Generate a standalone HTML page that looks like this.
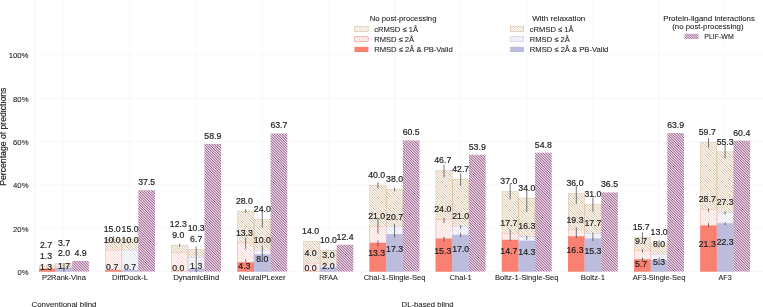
<!DOCTYPE html>
<html><head><meta charset="utf-8"><style>
html,body{margin:0;padding:0;background:#fff;width:763px;height:307px;overflow:hidden}
svg{display:block;will-change:transform}
text{font-family:"Liberation Sans",sans-serif}
</style></head><body>
<svg width="763" height="307" viewBox="0 0 763 307">
<defs>
</defs>
<rect width="763" height="307" fill="#fff"/>
<line x1="63.95" y1="0" x2="63.95" y2="271.60" stroke="#f6f6fa" stroke-width="0.8"/>
<line x1="130.07" y1="0" x2="130.07" y2="271.60" stroke="#f6f6fa" stroke-width="0.8"/>
<line x1="196.19" y1="0" x2="196.19" y2="271.60" stroke="#f6f6fa" stroke-width="0.8"/>
<line x1="262.31" y1="0" x2="262.31" y2="271.60" stroke="#f6f6fa" stroke-width="0.8"/>
<line x1="328.43" y1="0" x2="328.43" y2="271.60" stroke="#f6f6fa" stroke-width="0.8"/>
<line x1="394.55" y1="0" x2="394.55" y2="271.60" stroke="#f6f6fa" stroke-width="0.8"/>
<line x1="460.67" y1="0" x2="460.67" y2="271.60" stroke="#f6f6fa" stroke-width="0.8"/>
<line x1="526.79" y1="0" x2="526.79" y2="271.60" stroke="#f6f6fa" stroke-width="0.8"/>
<line x1="592.91" y1="0" x2="592.91" y2="271.60" stroke="#f6f6fa" stroke-width="0.8"/>
<line x1="659.03" y1="0" x2="659.03" y2="271.60" stroke="#f6f6fa" stroke-width="0.8"/>
<line x1="725.15" y1="0" x2="725.15" y2="271.60" stroke="#f6f6fa" stroke-width="0.8"/>
<line x1="34.6" y1="0" x2="34.6" y2="271.60" stroke="#f2f2f7" stroke-width="0.9"/>
<line x1="34.6" y1="271.60" x2="763" y2="271.60" stroke="#f6f6fa" stroke-width="0.8"/>
<line x1="34.6" y1="228.25" x2="763" y2="228.25" stroke="#f6f6fa" stroke-width="0.8"/>
<line x1="34.6" y1="184.90" x2="763" y2="184.90" stroke="#f6f6fa" stroke-width="0.8"/>
<line x1="34.6" y1="141.55" x2="763" y2="141.55" stroke="#f6f6fa" stroke-width="0.8"/>
<line x1="34.6" y1="98.20" x2="763" y2="98.20" stroke="#f6f6fa" stroke-width="0.8"/>
<line x1="34.6" y1="54.85" x2="763" y2="54.85" stroke="#f6f6fa" stroke-width="0.8"/>
<clipPath id="cc"><rect x="39.05" y="265.75" width="16.60" height="5.85"/><rect x="55.65" y="263.58" width="16.60" height="8.02"/><rect x="105.17" y="239.09" width="16.60" height="32.51"/><rect x="121.77" y="239.09" width="16.60" height="32.51"/><rect x="171.29" y="244.94" width="16.60" height="26.66"/><rect x="187.89" y="249.27" width="16.60" height="22.33"/><rect x="237.41" y="210.91" width="16.60" height="60.69"/><rect x="254.01" y="219.58" width="16.60" height="52.02"/><rect x="303.53" y="241.26" width="16.60" height="30.34"/><rect x="320.13" y="249.93" width="16.60" height="21.68"/><rect x="369.65" y="184.90" width="16.60" height="86.70"/><rect x="386.25" y="189.24" width="16.60" height="82.37"/><rect x="435.77" y="170.38" width="16.60" height="101.22"/><rect x="452.37" y="179.05" width="16.60" height="92.55"/><rect x="501.89" y="191.40" width="16.60" height="80.20"/><rect x="518.49" y="197.91" width="16.60" height="73.69"/><rect x="568.01" y="193.57" width="16.60" height="78.03"/><rect x="584.61" y="204.41" width="16.60" height="67.19"/><rect x="634.13" y="237.57" width="16.60" height="34.03"/><rect x="650.73" y="243.42" width="16.60" height="28.18"/><rect x="700.25" y="142.20" width="16.60" height="129.40"/><rect x="716.85" y="151.74" width="16.60" height="119.86"/></clipPath><rect x="39.05" y="265.75" width="16.60" height="5.85" fill="#ffffff"/><rect x="55.65" y="263.58" width="16.60" height="8.02" fill="#ffffff"/><rect x="105.17" y="239.09" width="16.60" height="32.51" fill="#ffffff"/><rect x="121.77" y="239.09" width="16.60" height="32.51" fill="#ffffff"/><rect x="171.29" y="244.94" width="16.60" height="26.66" fill="#ffffff"/><rect x="187.89" y="249.27" width="16.60" height="22.33" fill="#ffffff"/><rect x="237.41" y="210.91" width="16.60" height="60.69" fill="#ffffff"/><rect x="254.01" y="219.58" width="16.60" height="52.02" fill="#ffffff"/><rect x="303.53" y="241.26" width="16.60" height="30.34" fill="#ffffff"/><rect x="320.13" y="249.93" width="16.60" height="21.68" fill="#ffffff"/><rect x="369.65" y="184.90" width="16.60" height="86.70" fill="#ffffff"/><rect x="386.25" y="189.24" width="16.60" height="82.37" fill="#ffffff"/><rect x="435.77" y="170.38" width="16.60" height="101.22" fill="#ffffff"/><rect x="452.37" y="179.05" width="16.60" height="92.55" fill="#ffffff"/><rect x="501.89" y="191.40" width="16.60" height="80.20" fill="#ffffff"/><rect x="518.49" y="197.91" width="16.60" height="73.69" fill="#ffffff"/><rect x="568.01" y="193.57" width="16.60" height="78.03" fill="#ffffff"/><rect x="584.61" y="204.41" width="16.60" height="67.19" fill="#ffffff"/><rect x="634.13" y="237.57" width="16.60" height="34.03" fill="#ffffff"/><rect x="650.73" y="243.42" width="16.60" height="28.18" fill="#ffffff"/><rect x="700.25" y="142.20" width="16.60" height="129.40" fill="#ffffff"/><rect x="716.85" y="151.74" width="16.60" height="119.86" fill="#ffffff"/><path d="M30.00,-637.50L763.00,95.50M30.00,-635.00L763.00,98.00M30.00,-632.50L763.00,100.50M30.00,-630.00L763.00,103.00M30.00,-627.50L763.00,105.50M30.00,-625.00L763.00,108.00M30.00,-622.50L763.00,110.50M30.00,-620.00L763.00,113.00M30.00,-617.50L763.00,115.50M30.00,-615.00L763.00,118.00M30.00,-612.50L763.00,120.50M30.00,-610.00L763.00,123.00M30.00,-607.50L763.00,125.50M30.00,-605.00L763.00,128.00M30.00,-602.50L763.00,130.50M30.00,-600.00L763.00,133.00M30.00,-597.50L763.00,135.50M30.00,-595.00L763.00,138.00M30.00,-592.50L763.00,140.50M30.00,-590.00L763.00,143.00M30.00,-587.50L763.00,145.50M30.00,-585.00L763.00,148.00M30.00,-582.50L763.00,150.50M30.00,-580.00L763.00,153.00M30.00,-577.50L763.00,155.50M30.00,-575.00L763.00,158.00M30.00,-572.50L763.00,160.50M30.00,-570.00L763.00,163.00M30.00,-567.50L763.00,165.50M30.00,-565.00L763.00,168.00M30.00,-562.50L763.00,170.50M30.00,-560.00L763.00,173.00M30.00,-557.50L763.00,175.50M30.00,-555.00L763.00,178.00M30.00,-552.50L763.00,180.50M30.00,-550.00L763.00,183.00M30.00,-547.50L763.00,185.50M30.00,-545.00L763.00,188.00M30.00,-542.50L763.00,190.50M30.00,-540.00L763.00,193.00M30.00,-537.50L763.00,195.50M30.00,-535.00L763.00,198.00M30.00,-532.50L763.00,200.50M30.00,-530.00L763.00,203.00M30.00,-527.50L763.00,205.50M30.00,-525.00L763.00,208.00M30.00,-522.50L763.00,210.50M30.00,-520.00L763.00,213.00M30.00,-517.50L763.00,215.50M30.00,-515.00L763.00,218.00M30.00,-512.50L763.00,220.50M30.00,-510.00L763.00,223.00M30.00,-507.50L763.00,225.50M30.00,-505.00L763.00,228.00M30.00,-502.50L763.00,230.50M30.00,-500.00L763.00,233.00M30.00,-497.50L763.00,235.50M30.00,-495.00L763.00,238.00M30.00,-492.50L763.00,240.50M30.00,-490.00L763.00,243.00M30.00,-487.50L763.00,245.50M30.00,-485.00L763.00,248.00M30.00,-482.50L763.00,250.50M30.00,-480.00L763.00,253.00M30.00,-477.50L763.00,255.50M30.00,-475.00L763.00,258.00M30.00,-472.50L763.00,260.50M30.00,-470.00L763.00,263.00M30.00,-467.50L763.00,265.50M30.00,-465.00L763.00,268.00M30.00,-462.50L763.00,270.50M30.00,-460.00L763.00,273.00M30.00,-457.50L763.00,275.50M30.00,-455.00L763.00,278.00M30.00,-452.50L763.00,280.50M30.00,-450.00L763.00,283.00M30.00,-447.50L763.00,285.50M30.00,-445.00L763.00,288.00M30.00,-442.50L763.00,290.50M30.00,-440.00L763.00,293.00M30.00,-437.50L763.00,295.50M30.00,-435.00L763.00,298.00M30.00,-432.50L763.00,300.50M30.00,-430.00L763.00,303.00M30.00,-427.50L763.00,305.50M30.00,-425.00L763.00,308.00M30.00,-422.50L763.00,310.50M30.00,-420.00L763.00,313.00M30.00,-417.50L763.00,315.50M30.00,-415.00L763.00,318.00M30.00,-412.50L763.00,320.50M30.00,-410.00L763.00,323.00M30.00,-407.50L763.00,325.50M30.00,-405.00L763.00,328.00M30.00,-402.50L763.00,330.50M30.00,-400.00L763.00,333.00M30.00,-397.50L763.00,335.50M30.00,-395.00L763.00,338.00M30.00,-392.50L763.00,340.50M30.00,-390.00L763.00,343.00M30.00,-387.50L763.00,345.50M30.00,-385.00L763.00,348.00M30.00,-382.50L763.00,350.50M30.00,-380.00L763.00,353.00M30.00,-377.50L763.00,355.50M30.00,-375.00L763.00,358.00M30.00,-372.50L763.00,360.50M30.00,-370.00L763.00,363.00M30.00,-367.50L763.00,365.50M30.00,-365.00L763.00,368.00M30.00,-362.50L763.00,370.50M30.00,-360.00L763.00,373.00M30.00,-357.50L763.00,375.50M30.00,-355.00L763.00,378.00M30.00,-352.50L763.00,380.50M30.00,-350.00L763.00,383.00M30.00,-347.50L763.00,385.50M30.00,-345.00L763.00,388.00M30.00,-342.50L763.00,390.50M30.00,-340.00L763.00,393.00M30.00,-337.50L763.00,395.50M30.00,-335.00L763.00,398.00M30.00,-332.50L763.00,400.50M30.00,-330.00L763.00,403.00M30.00,-327.50L763.00,405.50M30.00,-325.00L763.00,408.00M30.00,-322.50L763.00,410.50M30.00,-320.00L763.00,413.00M30.00,-317.50L763.00,415.50M30.00,-315.00L763.00,418.00M30.00,-312.50L763.00,420.50M30.00,-310.00L763.00,423.00M30.00,-307.50L763.00,425.50M30.00,-305.00L763.00,428.00M30.00,-302.50L763.00,430.50M30.00,-300.00L763.00,433.00M30.00,-297.50L763.00,435.50M30.00,-295.00L763.00,438.00M30.00,-292.50L763.00,440.50M30.00,-290.00L763.00,443.00M30.00,-287.50L763.00,445.50M30.00,-285.00L763.00,448.00M30.00,-282.50L763.00,450.50M30.00,-280.00L763.00,453.00M30.00,-277.50L763.00,455.50M30.00,-275.00L763.00,458.00M30.00,-272.50L763.00,460.50M30.00,-270.00L763.00,463.00M30.00,-267.50L763.00,465.50M30.00,-265.00L763.00,468.00M30.00,-262.50L763.00,470.50M30.00,-260.00L763.00,473.00M30.00,-257.50L763.00,475.50M30.00,-255.00L763.00,478.00M30.00,-252.50L763.00,480.50M30.00,-250.00L763.00,483.00M30.00,-247.50L763.00,485.50M30.00,-245.00L763.00,488.00M30.00,-242.50L763.00,490.50M30.00,-240.00L763.00,493.00M30.00,-237.50L763.00,495.50M30.00,-235.00L763.00,498.00M30.00,-232.50L763.00,500.50M30.00,-230.00L763.00,503.00M30.00,-227.50L763.00,505.50M30.00,-225.00L763.00,508.00M30.00,-222.50L763.00,510.50M30.00,-220.00L763.00,513.00M30.00,-217.50L763.00,515.50M30.00,-215.00L763.00,518.00M30.00,-212.50L763.00,520.50M30.00,-210.00L763.00,523.00M30.00,-207.50L763.00,525.50M30.00,-205.00L763.00,528.00M30.00,-202.50L763.00,530.50M30.00,-200.00L763.00,533.00M30.00,-197.50L763.00,535.50M30.00,-195.00L763.00,538.00M30.00,-192.50L763.00,540.50M30.00,-190.00L763.00,543.00M30.00,-187.50L763.00,545.50M30.00,-185.00L763.00,548.00M30.00,-182.50L763.00,550.50M30.00,-180.00L763.00,553.00M30.00,-177.50L763.00,555.50M30.00,-175.00L763.00,558.00M30.00,-172.50L763.00,560.50M30.00,-170.00L763.00,563.00M30.00,-167.50L763.00,565.50M30.00,-165.00L763.00,568.00M30.00,-162.50L763.00,570.50M30.00,-160.00L763.00,573.00M30.00,-157.50L763.00,575.50M30.00,-155.00L763.00,578.00M30.00,-152.50L763.00,580.50M30.00,-150.00L763.00,583.00M30.00,-147.50L763.00,585.50M30.00,-145.00L763.00,588.00M30.00,-142.50L763.00,590.50M30.00,-140.00L763.00,593.00M30.00,-137.50L763.00,595.50M30.00,-135.00L763.00,598.00M30.00,-132.50L763.00,600.50M30.00,-130.00L763.00,603.00M30.00,-127.50L763.00,605.50M30.00,-125.00L763.00,608.00M30.00,-122.50L763.00,610.50M30.00,-120.00L763.00,613.00M30.00,-117.50L763.00,615.50M30.00,-115.00L763.00,618.00M30.00,-112.50L763.00,620.50M30.00,-110.00L763.00,623.00M30.00,-107.50L763.00,625.50M30.00,-105.00L763.00,628.00M30.00,-102.50L763.00,630.50M30.00,-100.00L763.00,633.00M30.00,-97.50L763.00,635.50M30.00,-95.00L763.00,638.00M30.00,-92.50L763.00,640.50M30.00,-90.00L763.00,643.00M30.00,-87.50L763.00,645.50M30.00,-85.00L763.00,648.00M30.00,-82.50L763.00,650.50M30.00,-80.00L763.00,653.00M30.00,-77.50L763.00,655.50M30.00,-75.00L763.00,658.00M30.00,-72.50L763.00,660.50M30.00,-70.00L763.00,663.00M30.00,-67.50L763.00,665.50M30.00,-65.00L763.00,668.00M30.00,-62.50L763.00,670.50M30.00,-60.00L763.00,673.00M30.00,-57.50L763.00,675.50M30.00,-55.00L763.00,678.00M30.00,-52.50L763.00,680.50M30.00,-50.00L763.00,683.00M30.00,-47.50L763.00,685.50M30.00,-45.00L763.00,688.00M30.00,-42.50L763.00,690.50M30.00,-40.00L763.00,693.00M30.00,-37.50L763.00,695.50M30.00,-35.00L763.00,698.00M30.00,-32.50L763.00,700.50M30.00,-30.00L763.00,703.00M30.00,-27.50L763.00,705.50M30.00,-25.00L763.00,708.00M30.00,-22.50L763.00,710.50M30.00,-20.00L763.00,713.00M30.00,-17.50L763.00,715.50M30.00,-15.00L763.00,718.00M30.00,-12.50L763.00,720.50M30.00,-10.00L763.00,723.00M30.00,-7.50L763.00,725.50M30.00,-5.00L763.00,728.00M30.00,-2.50L763.00,730.50M30.00,0.00L763.00,733.00M30.00,2.50L763.00,735.50M30.00,5.00L763.00,738.00M30.00,7.50L763.00,740.50M30.00,10.00L763.00,743.00M30.00,12.50L763.00,745.50M30.00,15.00L763.00,748.00M30.00,17.50L763.00,750.50M30.00,20.00L763.00,753.00M30.00,22.50L763.00,755.50M30.00,25.00L763.00,758.00M30.00,27.50L763.00,760.50M30.00,30.00L763.00,763.00M30.00,32.50L763.00,765.50M30.00,35.00L763.00,768.00M30.00,37.50L763.00,770.50M30.00,40.00L763.00,773.00M30.00,42.50L763.00,775.50M30.00,45.00L763.00,778.00M30.00,47.50L763.00,780.50M30.00,50.00L763.00,783.00M30.00,52.50L763.00,785.50M30.00,55.00L763.00,788.00M30.00,57.50L763.00,790.50M30.00,60.00L763.00,793.00M30.00,62.50L763.00,795.50M30.00,65.00L763.00,798.00M30.00,67.50L763.00,800.50M30.00,70.00L763.00,803.00M30.00,72.50L763.00,805.50M30.00,75.00L763.00,808.00M30.00,77.50L763.00,810.50M30.00,80.00L763.00,813.00M30.00,82.50L763.00,815.50M30.00,85.00L763.00,818.00M30.00,87.50L763.00,820.50M30.00,90.00L763.00,823.00M30.00,92.50L763.00,825.50M30.00,95.00L763.00,828.00M30.00,97.50L763.00,830.50M30.00,100.00L763.00,833.00M30.00,102.50L763.00,835.50M30.00,105.00L763.00,838.00M30.00,107.50L763.00,840.50M30.00,110.00L763.00,843.00M30.00,112.50L763.00,845.50M30.00,115.00L763.00,848.00M30.00,117.50L763.00,850.50M30.00,120.00L763.00,853.00M30.00,122.50L763.00,855.50M30.00,125.00L763.00,858.00M30.00,127.50L763.00,860.50M30.00,130.00L763.00,863.00M30.00,132.50L763.00,865.50M30.00,135.00L763.00,868.00M30.00,137.50L763.00,870.50M30.00,140.00L763.00,873.00M30.00,142.50L763.00,875.50M30.00,145.00L763.00,878.00M30.00,147.50L763.00,880.50M30.00,150.00L763.00,883.00M30.00,152.50L763.00,885.50M30.00,155.00L763.00,888.00M30.00,157.50L763.00,890.50M30.00,160.00L763.00,893.00M30.00,162.50L763.00,895.50M30.00,165.00L763.00,898.00M30.00,167.50L763.00,900.50M30.00,170.00L763.00,903.00M30.00,172.50L763.00,905.50M30.00,175.00L763.00,908.00M30.00,177.50L763.00,910.50M30.00,180.00L763.00,913.00M30.00,182.50L763.00,915.50M30.00,185.00L763.00,918.00M30.00,187.50L763.00,920.50M30.00,190.00L763.00,923.00M30.00,192.50L763.00,925.50M30.00,195.00L763.00,928.00M30.00,197.50L763.00,930.50M30.00,200.00L763.00,933.00M30.00,202.50L763.00,935.50M30.00,205.00L763.00,938.00M30.00,207.50L763.00,940.50M30.00,210.00L763.00,943.00M30.00,212.50L763.00,945.50M30.00,215.00L763.00,948.00M30.00,217.50L763.00,950.50M30.00,220.00L763.00,953.00M30.00,222.50L763.00,955.50M30.00,225.00L763.00,958.00M30.00,227.50L763.00,960.50M30.00,230.00L763.00,963.00M30.00,232.50L763.00,965.50M30.00,235.00L763.00,968.00M30.00,237.50L763.00,970.50M30.00,240.00L763.00,973.00M30.00,242.50L763.00,975.50M30.00,245.00L763.00,978.00M30.00,247.50L763.00,980.50M30.00,250.00L763.00,983.00M30.00,252.50L763.00,985.50M30.00,255.00L763.00,988.00M30.00,257.50L763.00,990.50M30.00,260.00L763.00,993.00M30.00,262.50L763.00,995.50M30.00,265.00L763.00,998.00M30.00,267.50L763.00,1000.50M30.00,270.00L763.00,1003.00M30.00,272.50L763.00,1005.50M30.00,275.00L763.00,1008.00M30.00,277.50L763.00,1010.50" stroke="#d2b48c" stroke-width="0.85" fill="none" clip-path="url(#cc)"/><rect x="39.22" y="265.92" width="16.25" height="5.50" fill="none" stroke="#d2b48c" stroke-width="0.35"/><rect x="55.83" y="263.76" width="16.25" height="7.67" fill="none" stroke="#d2b48c" stroke-width="0.35"/><rect x="105.34" y="239.26" width="16.25" height="32.16" fill="none" stroke="#d2b48c" stroke-width="0.35"/><rect x="121.94" y="239.26" width="16.25" height="32.16" fill="none" stroke="#d2b48c" stroke-width="0.35"/><rect x="171.47" y="245.11" width="16.25" height="26.31" fill="none" stroke="#d2b48c" stroke-width="0.35"/><rect x="188.06" y="249.45" width="16.25" height="21.98" fill="none" stroke="#d2b48c" stroke-width="0.35"/><rect x="237.59" y="211.09" width="16.25" height="60.34" fill="none" stroke="#d2b48c" stroke-width="0.35"/><rect x="254.19" y="219.76" width="16.25" height="51.67" fill="none" stroke="#d2b48c" stroke-width="0.35"/><rect x="303.70" y="241.43" width="16.25" height="29.99" fill="none" stroke="#d2b48c" stroke-width="0.35"/><rect x="320.31" y="250.10" width="16.25" height="21.33" fill="none" stroke="#d2b48c" stroke-width="0.35"/><rect x="369.82" y="185.08" width="16.25" height="86.35" fill="none" stroke="#d2b48c" stroke-width="0.35"/><rect x="386.43" y="189.41" width="16.25" height="82.02" fill="none" stroke="#d2b48c" stroke-width="0.35"/><rect x="435.94" y="170.55" width="16.25" height="100.87" fill="none" stroke="#d2b48c" stroke-width="0.35"/><rect x="452.55" y="179.22" width="16.25" height="92.20" fill="none" stroke="#d2b48c" stroke-width="0.35"/><rect x="502.07" y="191.58" width="16.25" height="79.85" fill="none" stroke="#d2b48c" stroke-width="0.35"/><rect x="518.67" y="198.08" width="16.25" height="73.34" fill="none" stroke="#d2b48c" stroke-width="0.35"/><rect x="568.19" y="193.75" width="16.25" height="77.68" fill="none" stroke="#d2b48c" stroke-width="0.35"/><rect x="584.79" y="204.58" width="16.25" height="66.84" fill="none" stroke="#d2b48c" stroke-width="0.35"/><rect x="634.31" y="237.75" width="16.25" height="33.68" fill="none" stroke="#d2b48c" stroke-width="0.35"/><rect x="650.91" y="243.60" width="16.25" height="27.83" fill="none" stroke="#d2b48c" stroke-width="0.35"/><rect x="700.43" y="142.38" width="16.25" height="129.05" fill="none" stroke="#d2b48c" stroke-width="0.35"/><rect x="717.03" y="151.91" width="16.25" height="119.51" fill="none" stroke="#d2b48c" stroke-width="0.35"/>
<clipPath id="cr0"><rect x="39.05" y="268.78" width="16.60" height="2.82"/><rect x="105.17" y="249.93" width="16.60" height="21.68"/><rect x="171.29" y="252.09" width="16.60" height="19.51"/><rect x="237.41" y="242.77" width="16.60" height="28.83"/><rect x="303.53" y="262.93" width="16.60" height="8.67"/><rect x="369.65" y="226.08" width="16.60" height="45.52"/><rect x="435.77" y="219.58" width="16.60" height="52.02"/><rect x="501.89" y="233.24" width="16.60" height="38.36"/><rect x="568.01" y="229.77" width="16.60" height="41.83"/><rect x="634.13" y="250.58" width="16.60" height="21.02"/><rect x="700.25" y="209.39" width="16.60" height="62.21"/></clipPath><rect x="39.05" y="268.78" width="16.60" height="2.82" fill="#ffffff"/><rect x="105.17" y="249.93" width="16.60" height="21.68" fill="#ffffff"/><rect x="171.29" y="252.09" width="16.60" height="19.51" fill="#ffffff"/><rect x="237.41" y="242.77" width="16.60" height="28.83" fill="#ffffff"/><rect x="303.53" y="262.93" width="16.60" height="8.67" fill="#ffffff"/><rect x="369.65" y="226.08" width="16.60" height="45.52" fill="#ffffff"/><rect x="435.77" y="219.58" width="16.60" height="52.02" fill="#ffffff"/><rect x="501.89" y="233.24" width="16.60" height="38.36" fill="#ffffff"/><rect x="568.01" y="229.77" width="16.60" height="41.83" fill="#ffffff"/><rect x="634.13" y="250.58" width="16.60" height="21.02" fill="#ffffff"/><rect x="700.25" y="209.39" width="16.60" height="62.21" fill="#ffffff"/><path d="M30.00,-637.50L763.00,95.50M30.00,-635.00L763.00,98.00M30.00,-632.50L763.00,100.50M30.00,-630.00L763.00,103.00M30.00,-627.50L763.00,105.50M30.00,-625.00L763.00,108.00M30.00,-622.50L763.00,110.50M30.00,-620.00L763.00,113.00M30.00,-617.50L763.00,115.50M30.00,-615.00L763.00,118.00M30.00,-612.50L763.00,120.50M30.00,-610.00L763.00,123.00M30.00,-607.50L763.00,125.50M30.00,-605.00L763.00,128.00M30.00,-602.50L763.00,130.50M30.00,-600.00L763.00,133.00M30.00,-597.50L763.00,135.50M30.00,-595.00L763.00,138.00M30.00,-592.50L763.00,140.50M30.00,-590.00L763.00,143.00M30.00,-587.50L763.00,145.50M30.00,-585.00L763.00,148.00M30.00,-582.50L763.00,150.50M30.00,-580.00L763.00,153.00M30.00,-577.50L763.00,155.50M30.00,-575.00L763.00,158.00M30.00,-572.50L763.00,160.50M30.00,-570.00L763.00,163.00M30.00,-567.50L763.00,165.50M30.00,-565.00L763.00,168.00M30.00,-562.50L763.00,170.50M30.00,-560.00L763.00,173.00M30.00,-557.50L763.00,175.50M30.00,-555.00L763.00,178.00M30.00,-552.50L763.00,180.50M30.00,-550.00L763.00,183.00M30.00,-547.50L763.00,185.50M30.00,-545.00L763.00,188.00M30.00,-542.50L763.00,190.50M30.00,-540.00L763.00,193.00M30.00,-537.50L763.00,195.50M30.00,-535.00L763.00,198.00M30.00,-532.50L763.00,200.50M30.00,-530.00L763.00,203.00M30.00,-527.50L763.00,205.50M30.00,-525.00L763.00,208.00M30.00,-522.50L763.00,210.50M30.00,-520.00L763.00,213.00M30.00,-517.50L763.00,215.50M30.00,-515.00L763.00,218.00M30.00,-512.50L763.00,220.50M30.00,-510.00L763.00,223.00M30.00,-507.50L763.00,225.50M30.00,-505.00L763.00,228.00M30.00,-502.50L763.00,230.50M30.00,-500.00L763.00,233.00M30.00,-497.50L763.00,235.50M30.00,-495.00L763.00,238.00M30.00,-492.50L763.00,240.50M30.00,-490.00L763.00,243.00M30.00,-487.50L763.00,245.50M30.00,-485.00L763.00,248.00M30.00,-482.50L763.00,250.50M30.00,-480.00L763.00,253.00M30.00,-477.50L763.00,255.50M30.00,-475.00L763.00,258.00M30.00,-472.50L763.00,260.50M30.00,-470.00L763.00,263.00M30.00,-467.50L763.00,265.50M30.00,-465.00L763.00,268.00M30.00,-462.50L763.00,270.50M30.00,-460.00L763.00,273.00M30.00,-457.50L763.00,275.50M30.00,-455.00L763.00,278.00M30.00,-452.50L763.00,280.50M30.00,-450.00L763.00,283.00M30.00,-447.50L763.00,285.50M30.00,-445.00L763.00,288.00M30.00,-442.50L763.00,290.50M30.00,-440.00L763.00,293.00M30.00,-437.50L763.00,295.50M30.00,-435.00L763.00,298.00M30.00,-432.50L763.00,300.50M30.00,-430.00L763.00,303.00M30.00,-427.50L763.00,305.50M30.00,-425.00L763.00,308.00M30.00,-422.50L763.00,310.50M30.00,-420.00L763.00,313.00M30.00,-417.50L763.00,315.50M30.00,-415.00L763.00,318.00M30.00,-412.50L763.00,320.50M30.00,-410.00L763.00,323.00M30.00,-407.50L763.00,325.50M30.00,-405.00L763.00,328.00M30.00,-402.50L763.00,330.50M30.00,-400.00L763.00,333.00M30.00,-397.50L763.00,335.50M30.00,-395.00L763.00,338.00M30.00,-392.50L763.00,340.50M30.00,-390.00L763.00,343.00M30.00,-387.50L763.00,345.50M30.00,-385.00L763.00,348.00M30.00,-382.50L763.00,350.50M30.00,-380.00L763.00,353.00M30.00,-377.50L763.00,355.50M30.00,-375.00L763.00,358.00M30.00,-372.50L763.00,360.50M30.00,-370.00L763.00,363.00M30.00,-367.50L763.00,365.50M30.00,-365.00L763.00,368.00M30.00,-362.50L763.00,370.50M30.00,-360.00L763.00,373.00M30.00,-357.50L763.00,375.50M30.00,-355.00L763.00,378.00M30.00,-352.50L763.00,380.50M30.00,-350.00L763.00,383.00M30.00,-347.50L763.00,385.50M30.00,-345.00L763.00,388.00M30.00,-342.50L763.00,390.50M30.00,-340.00L763.00,393.00M30.00,-337.50L763.00,395.50M30.00,-335.00L763.00,398.00M30.00,-332.50L763.00,400.50M30.00,-330.00L763.00,403.00M30.00,-327.50L763.00,405.50M30.00,-325.00L763.00,408.00M30.00,-322.50L763.00,410.50M30.00,-320.00L763.00,413.00M30.00,-317.50L763.00,415.50M30.00,-315.00L763.00,418.00M30.00,-312.50L763.00,420.50M30.00,-310.00L763.00,423.00M30.00,-307.50L763.00,425.50M30.00,-305.00L763.00,428.00M30.00,-302.50L763.00,430.50M30.00,-300.00L763.00,433.00M30.00,-297.50L763.00,435.50M30.00,-295.00L763.00,438.00M30.00,-292.50L763.00,440.50M30.00,-290.00L763.00,443.00M30.00,-287.50L763.00,445.50M30.00,-285.00L763.00,448.00M30.00,-282.50L763.00,450.50M30.00,-280.00L763.00,453.00M30.00,-277.50L763.00,455.50M30.00,-275.00L763.00,458.00M30.00,-272.50L763.00,460.50M30.00,-270.00L763.00,463.00M30.00,-267.50L763.00,465.50M30.00,-265.00L763.00,468.00M30.00,-262.50L763.00,470.50M30.00,-260.00L763.00,473.00M30.00,-257.50L763.00,475.50M30.00,-255.00L763.00,478.00M30.00,-252.50L763.00,480.50M30.00,-250.00L763.00,483.00M30.00,-247.50L763.00,485.50M30.00,-245.00L763.00,488.00M30.00,-242.50L763.00,490.50M30.00,-240.00L763.00,493.00M30.00,-237.50L763.00,495.50M30.00,-235.00L763.00,498.00M30.00,-232.50L763.00,500.50M30.00,-230.00L763.00,503.00M30.00,-227.50L763.00,505.50M30.00,-225.00L763.00,508.00M30.00,-222.50L763.00,510.50M30.00,-220.00L763.00,513.00M30.00,-217.50L763.00,515.50M30.00,-215.00L763.00,518.00M30.00,-212.50L763.00,520.50M30.00,-210.00L763.00,523.00M30.00,-207.50L763.00,525.50M30.00,-205.00L763.00,528.00M30.00,-202.50L763.00,530.50M30.00,-200.00L763.00,533.00M30.00,-197.50L763.00,535.50M30.00,-195.00L763.00,538.00M30.00,-192.50L763.00,540.50M30.00,-190.00L763.00,543.00M30.00,-187.50L763.00,545.50M30.00,-185.00L763.00,548.00M30.00,-182.50L763.00,550.50M30.00,-180.00L763.00,553.00M30.00,-177.50L763.00,555.50M30.00,-175.00L763.00,558.00M30.00,-172.50L763.00,560.50M30.00,-170.00L763.00,563.00M30.00,-167.50L763.00,565.50M30.00,-165.00L763.00,568.00M30.00,-162.50L763.00,570.50M30.00,-160.00L763.00,573.00M30.00,-157.50L763.00,575.50M30.00,-155.00L763.00,578.00M30.00,-152.50L763.00,580.50M30.00,-150.00L763.00,583.00M30.00,-147.50L763.00,585.50M30.00,-145.00L763.00,588.00M30.00,-142.50L763.00,590.50M30.00,-140.00L763.00,593.00M30.00,-137.50L763.00,595.50M30.00,-135.00L763.00,598.00M30.00,-132.50L763.00,600.50M30.00,-130.00L763.00,603.00M30.00,-127.50L763.00,605.50M30.00,-125.00L763.00,608.00M30.00,-122.50L763.00,610.50M30.00,-120.00L763.00,613.00M30.00,-117.50L763.00,615.50M30.00,-115.00L763.00,618.00M30.00,-112.50L763.00,620.50M30.00,-110.00L763.00,623.00M30.00,-107.50L763.00,625.50M30.00,-105.00L763.00,628.00M30.00,-102.50L763.00,630.50M30.00,-100.00L763.00,633.00M30.00,-97.50L763.00,635.50M30.00,-95.00L763.00,638.00M30.00,-92.50L763.00,640.50M30.00,-90.00L763.00,643.00M30.00,-87.50L763.00,645.50M30.00,-85.00L763.00,648.00M30.00,-82.50L763.00,650.50M30.00,-80.00L763.00,653.00M30.00,-77.50L763.00,655.50M30.00,-75.00L763.00,658.00M30.00,-72.50L763.00,660.50M30.00,-70.00L763.00,663.00M30.00,-67.50L763.00,665.50M30.00,-65.00L763.00,668.00M30.00,-62.50L763.00,670.50M30.00,-60.00L763.00,673.00M30.00,-57.50L763.00,675.50M30.00,-55.00L763.00,678.00M30.00,-52.50L763.00,680.50M30.00,-50.00L763.00,683.00M30.00,-47.50L763.00,685.50M30.00,-45.00L763.00,688.00M30.00,-42.50L763.00,690.50M30.00,-40.00L763.00,693.00M30.00,-37.50L763.00,695.50M30.00,-35.00L763.00,698.00M30.00,-32.50L763.00,700.50M30.00,-30.00L763.00,703.00M30.00,-27.50L763.00,705.50M30.00,-25.00L763.00,708.00M30.00,-22.50L763.00,710.50M30.00,-20.00L763.00,713.00M30.00,-17.50L763.00,715.50M30.00,-15.00L763.00,718.00M30.00,-12.50L763.00,720.50M30.00,-10.00L763.00,723.00M30.00,-7.50L763.00,725.50M30.00,-5.00L763.00,728.00M30.00,-2.50L763.00,730.50M30.00,0.00L763.00,733.00M30.00,2.50L763.00,735.50M30.00,5.00L763.00,738.00M30.00,7.50L763.00,740.50M30.00,10.00L763.00,743.00M30.00,12.50L763.00,745.50M30.00,15.00L763.00,748.00M30.00,17.50L763.00,750.50M30.00,20.00L763.00,753.00M30.00,22.50L763.00,755.50M30.00,25.00L763.00,758.00M30.00,27.50L763.00,760.50M30.00,30.00L763.00,763.00M30.00,32.50L763.00,765.50M30.00,35.00L763.00,768.00M30.00,37.50L763.00,770.50M30.00,40.00L763.00,773.00M30.00,42.50L763.00,775.50M30.00,45.00L763.00,778.00M30.00,47.50L763.00,780.50M30.00,50.00L763.00,783.00M30.00,52.50L763.00,785.50M30.00,55.00L763.00,788.00M30.00,57.50L763.00,790.50M30.00,60.00L763.00,793.00M30.00,62.50L763.00,795.50M30.00,65.00L763.00,798.00M30.00,67.50L763.00,800.50M30.00,70.00L763.00,803.00M30.00,72.50L763.00,805.50M30.00,75.00L763.00,808.00M30.00,77.50L763.00,810.50M30.00,80.00L763.00,813.00M30.00,82.50L763.00,815.50M30.00,85.00L763.00,818.00M30.00,87.50L763.00,820.50M30.00,90.00L763.00,823.00M30.00,92.50L763.00,825.50M30.00,95.00L763.00,828.00M30.00,97.50L763.00,830.50M30.00,100.00L763.00,833.00M30.00,102.50L763.00,835.50M30.00,105.00L763.00,838.00M30.00,107.50L763.00,840.50M30.00,110.00L763.00,843.00M30.00,112.50L763.00,845.50M30.00,115.00L763.00,848.00M30.00,117.50L763.00,850.50M30.00,120.00L763.00,853.00M30.00,122.50L763.00,855.50M30.00,125.00L763.00,858.00M30.00,127.50L763.00,860.50M30.00,130.00L763.00,863.00M30.00,132.50L763.00,865.50M30.00,135.00L763.00,868.00M30.00,137.50L763.00,870.50M30.00,140.00L763.00,873.00M30.00,142.50L763.00,875.50M30.00,145.00L763.00,878.00M30.00,147.50L763.00,880.50M30.00,150.00L763.00,883.00M30.00,152.50L763.00,885.50M30.00,155.00L763.00,888.00M30.00,157.50L763.00,890.50M30.00,160.00L763.00,893.00M30.00,162.50L763.00,895.50M30.00,165.00L763.00,898.00M30.00,167.50L763.00,900.50M30.00,170.00L763.00,903.00M30.00,172.50L763.00,905.50M30.00,175.00L763.00,908.00M30.00,177.50L763.00,910.50M30.00,180.00L763.00,913.00M30.00,182.50L763.00,915.50M30.00,185.00L763.00,918.00M30.00,187.50L763.00,920.50M30.00,190.00L763.00,923.00M30.00,192.50L763.00,925.50M30.00,195.00L763.00,928.00M30.00,197.50L763.00,930.50M30.00,200.00L763.00,933.00M30.00,202.50L763.00,935.50M30.00,205.00L763.00,938.00M30.00,207.50L763.00,940.50M30.00,210.00L763.00,943.00M30.00,212.50L763.00,945.50M30.00,215.00L763.00,948.00M30.00,217.50L763.00,950.50M30.00,220.00L763.00,953.00M30.00,222.50L763.00,955.50M30.00,225.00L763.00,958.00M30.00,227.50L763.00,960.50M30.00,230.00L763.00,963.00M30.00,232.50L763.00,965.50M30.00,235.00L763.00,968.00M30.00,237.50L763.00,970.50M30.00,240.00L763.00,973.00M30.00,242.50L763.00,975.50M30.00,245.00L763.00,978.00M30.00,247.50L763.00,980.50M30.00,250.00L763.00,983.00M30.00,252.50L763.00,985.50M30.00,255.00L763.00,988.00M30.00,257.50L763.00,990.50M30.00,260.00L763.00,993.00M30.00,262.50L763.00,995.50M30.00,265.00L763.00,998.00M30.00,267.50L763.00,1000.50M30.00,270.00L763.00,1003.00M30.00,272.50L763.00,1005.50M30.00,275.00L763.00,1008.00M30.00,277.50L763.00,1010.50" stroke="#fa8072" stroke-width="0.38" fill="none" clip-path="url(#cr0)"/><rect x="39.22" y="268.96" width="16.25" height="2.47" fill="none" stroke="#f99a8e" stroke-width="0.35"/><rect x="105.34" y="250.10" width="16.25" height="21.33" fill="none" stroke="#f99a8e" stroke-width="0.35"/><rect x="171.47" y="252.27" width="16.25" height="19.16" fill="none" stroke="#f99a8e" stroke-width="0.35"/><rect x="237.59" y="242.95" width="16.25" height="28.48" fill="none" stroke="#f99a8e" stroke-width="0.35"/><rect x="303.70" y="263.11" width="16.25" height="8.32" fill="none" stroke="#f99a8e" stroke-width="0.35"/><rect x="369.82" y="226.26" width="16.25" height="45.17" fill="none" stroke="#f99a8e" stroke-width="0.35"/><rect x="435.94" y="219.76" width="16.25" height="51.67" fill="none" stroke="#f99a8e" stroke-width="0.35"/><rect x="502.07" y="233.41" width="16.25" height="38.01" fill="none" stroke="#f99a8e" stroke-width="0.35"/><rect x="568.19" y="229.94" width="16.25" height="41.48" fill="none" stroke="#f99a8e" stroke-width="0.35"/><rect x="634.31" y="250.75" width="16.25" height="20.67" fill="none" stroke="#f99a8e" stroke-width="0.35"/><rect x="700.43" y="209.57" width="16.25" height="61.86" fill="none" stroke="#f99a8e" stroke-width="0.35"/>
<clipPath id="cr1"><rect x="55.65" y="267.27" width="16.60" height="4.33"/><rect x="121.77" y="249.93" width="16.60" height="21.68"/><rect x="187.89" y="257.08" width="16.60" height="14.52"/><rect x="254.01" y="249.93" width="16.60" height="21.68"/><rect x="320.13" y="265.10" width="16.60" height="6.50"/><rect x="386.25" y="226.73" width="16.60" height="44.87"/><rect x="452.37" y="226.08" width="16.60" height="45.52"/><rect x="518.49" y="236.27" width="16.60" height="35.33"/><rect x="584.61" y="233.24" width="16.60" height="38.36"/><rect x="650.73" y="254.26" width="16.60" height="17.34"/><rect x="716.85" y="212.43" width="16.60" height="59.17"/></clipPath><rect x="55.65" y="267.27" width="16.60" height="4.33" fill="#ffffff"/><rect x="121.77" y="249.93" width="16.60" height="21.68" fill="#ffffff"/><rect x="187.89" y="257.08" width="16.60" height="14.52" fill="#ffffff"/><rect x="254.01" y="249.93" width="16.60" height="21.68" fill="#ffffff"/><rect x="320.13" y="265.10" width="16.60" height="6.50" fill="#ffffff"/><rect x="386.25" y="226.73" width="16.60" height="44.87" fill="#ffffff"/><rect x="452.37" y="226.08" width="16.60" height="45.52" fill="#ffffff"/><rect x="518.49" y="236.27" width="16.60" height="35.33" fill="#ffffff"/><rect x="584.61" y="233.24" width="16.60" height="38.36" fill="#ffffff"/><rect x="650.73" y="254.26" width="16.60" height="17.34" fill="#ffffff"/><rect x="716.85" y="212.43" width="16.60" height="59.17" fill="#ffffff"/><path d="M30.00,-637.50L763.00,95.50M30.00,-635.00L763.00,98.00M30.00,-632.50L763.00,100.50M30.00,-630.00L763.00,103.00M30.00,-627.50L763.00,105.50M30.00,-625.00L763.00,108.00M30.00,-622.50L763.00,110.50M30.00,-620.00L763.00,113.00M30.00,-617.50L763.00,115.50M30.00,-615.00L763.00,118.00M30.00,-612.50L763.00,120.50M30.00,-610.00L763.00,123.00M30.00,-607.50L763.00,125.50M30.00,-605.00L763.00,128.00M30.00,-602.50L763.00,130.50M30.00,-600.00L763.00,133.00M30.00,-597.50L763.00,135.50M30.00,-595.00L763.00,138.00M30.00,-592.50L763.00,140.50M30.00,-590.00L763.00,143.00M30.00,-587.50L763.00,145.50M30.00,-585.00L763.00,148.00M30.00,-582.50L763.00,150.50M30.00,-580.00L763.00,153.00M30.00,-577.50L763.00,155.50M30.00,-575.00L763.00,158.00M30.00,-572.50L763.00,160.50M30.00,-570.00L763.00,163.00M30.00,-567.50L763.00,165.50M30.00,-565.00L763.00,168.00M30.00,-562.50L763.00,170.50M30.00,-560.00L763.00,173.00M30.00,-557.50L763.00,175.50M30.00,-555.00L763.00,178.00M30.00,-552.50L763.00,180.50M30.00,-550.00L763.00,183.00M30.00,-547.50L763.00,185.50M30.00,-545.00L763.00,188.00M30.00,-542.50L763.00,190.50M30.00,-540.00L763.00,193.00M30.00,-537.50L763.00,195.50M30.00,-535.00L763.00,198.00M30.00,-532.50L763.00,200.50M30.00,-530.00L763.00,203.00M30.00,-527.50L763.00,205.50M30.00,-525.00L763.00,208.00M30.00,-522.50L763.00,210.50M30.00,-520.00L763.00,213.00M30.00,-517.50L763.00,215.50M30.00,-515.00L763.00,218.00M30.00,-512.50L763.00,220.50M30.00,-510.00L763.00,223.00M30.00,-507.50L763.00,225.50M30.00,-505.00L763.00,228.00M30.00,-502.50L763.00,230.50M30.00,-500.00L763.00,233.00M30.00,-497.50L763.00,235.50M30.00,-495.00L763.00,238.00M30.00,-492.50L763.00,240.50M30.00,-490.00L763.00,243.00M30.00,-487.50L763.00,245.50M30.00,-485.00L763.00,248.00M30.00,-482.50L763.00,250.50M30.00,-480.00L763.00,253.00M30.00,-477.50L763.00,255.50M30.00,-475.00L763.00,258.00M30.00,-472.50L763.00,260.50M30.00,-470.00L763.00,263.00M30.00,-467.50L763.00,265.50M30.00,-465.00L763.00,268.00M30.00,-462.50L763.00,270.50M30.00,-460.00L763.00,273.00M30.00,-457.50L763.00,275.50M30.00,-455.00L763.00,278.00M30.00,-452.50L763.00,280.50M30.00,-450.00L763.00,283.00M30.00,-447.50L763.00,285.50M30.00,-445.00L763.00,288.00M30.00,-442.50L763.00,290.50M30.00,-440.00L763.00,293.00M30.00,-437.50L763.00,295.50M30.00,-435.00L763.00,298.00M30.00,-432.50L763.00,300.50M30.00,-430.00L763.00,303.00M30.00,-427.50L763.00,305.50M30.00,-425.00L763.00,308.00M30.00,-422.50L763.00,310.50M30.00,-420.00L763.00,313.00M30.00,-417.50L763.00,315.50M30.00,-415.00L763.00,318.00M30.00,-412.50L763.00,320.50M30.00,-410.00L763.00,323.00M30.00,-407.50L763.00,325.50M30.00,-405.00L763.00,328.00M30.00,-402.50L763.00,330.50M30.00,-400.00L763.00,333.00M30.00,-397.50L763.00,335.50M30.00,-395.00L763.00,338.00M30.00,-392.50L763.00,340.50M30.00,-390.00L763.00,343.00M30.00,-387.50L763.00,345.50M30.00,-385.00L763.00,348.00M30.00,-382.50L763.00,350.50M30.00,-380.00L763.00,353.00M30.00,-377.50L763.00,355.50M30.00,-375.00L763.00,358.00M30.00,-372.50L763.00,360.50M30.00,-370.00L763.00,363.00M30.00,-367.50L763.00,365.50M30.00,-365.00L763.00,368.00M30.00,-362.50L763.00,370.50M30.00,-360.00L763.00,373.00M30.00,-357.50L763.00,375.50M30.00,-355.00L763.00,378.00M30.00,-352.50L763.00,380.50M30.00,-350.00L763.00,383.00M30.00,-347.50L763.00,385.50M30.00,-345.00L763.00,388.00M30.00,-342.50L763.00,390.50M30.00,-340.00L763.00,393.00M30.00,-337.50L763.00,395.50M30.00,-335.00L763.00,398.00M30.00,-332.50L763.00,400.50M30.00,-330.00L763.00,403.00M30.00,-327.50L763.00,405.50M30.00,-325.00L763.00,408.00M30.00,-322.50L763.00,410.50M30.00,-320.00L763.00,413.00M30.00,-317.50L763.00,415.50M30.00,-315.00L763.00,418.00M30.00,-312.50L763.00,420.50M30.00,-310.00L763.00,423.00M30.00,-307.50L763.00,425.50M30.00,-305.00L763.00,428.00M30.00,-302.50L763.00,430.50M30.00,-300.00L763.00,433.00M30.00,-297.50L763.00,435.50M30.00,-295.00L763.00,438.00M30.00,-292.50L763.00,440.50M30.00,-290.00L763.00,443.00M30.00,-287.50L763.00,445.50M30.00,-285.00L763.00,448.00M30.00,-282.50L763.00,450.50M30.00,-280.00L763.00,453.00M30.00,-277.50L763.00,455.50M30.00,-275.00L763.00,458.00M30.00,-272.50L763.00,460.50M30.00,-270.00L763.00,463.00M30.00,-267.50L763.00,465.50M30.00,-265.00L763.00,468.00M30.00,-262.50L763.00,470.50M30.00,-260.00L763.00,473.00M30.00,-257.50L763.00,475.50M30.00,-255.00L763.00,478.00M30.00,-252.50L763.00,480.50M30.00,-250.00L763.00,483.00M30.00,-247.50L763.00,485.50M30.00,-245.00L763.00,488.00M30.00,-242.50L763.00,490.50M30.00,-240.00L763.00,493.00M30.00,-237.50L763.00,495.50M30.00,-235.00L763.00,498.00M30.00,-232.50L763.00,500.50M30.00,-230.00L763.00,503.00M30.00,-227.50L763.00,505.50M30.00,-225.00L763.00,508.00M30.00,-222.50L763.00,510.50M30.00,-220.00L763.00,513.00M30.00,-217.50L763.00,515.50M30.00,-215.00L763.00,518.00M30.00,-212.50L763.00,520.50M30.00,-210.00L763.00,523.00M30.00,-207.50L763.00,525.50M30.00,-205.00L763.00,528.00M30.00,-202.50L763.00,530.50M30.00,-200.00L763.00,533.00M30.00,-197.50L763.00,535.50M30.00,-195.00L763.00,538.00M30.00,-192.50L763.00,540.50M30.00,-190.00L763.00,543.00M30.00,-187.50L763.00,545.50M30.00,-185.00L763.00,548.00M30.00,-182.50L763.00,550.50M30.00,-180.00L763.00,553.00M30.00,-177.50L763.00,555.50M30.00,-175.00L763.00,558.00M30.00,-172.50L763.00,560.50M30.00,-170.00L763.00,563.00M30.00,-167.50L763.00,565.50M30.00,-165.00L763.00,568.00M30.00,-162.50L763.00,570.50M30.00,-160.00L763.00,573.00M30.00,-157.50L763.00,575.50M30.00,-155.00L763.00,578.00M30.00,-152.50L763.00,580.50M30.00,-150.00L763.00,583.00M30.00,-147.50L763.00,585.50M30.00,-145.00L763.00,588.00M30.00,-142.50L763.00,590.50M30.00,-140.00L763.00,593.00M30.00,-137.50L763.00,595.50M30.00,-135.00L763.00,598.00M30.00,-132.50L763.00,600.50M30.00,-130.00L763.00,603.00M30.00,-127.50L763.00,605.50M30.00,-125.00L763.00,608.00M30.00,-122.50L763.00,610.50M30.00,-120.00L763.00,613.00M30.00,-117.50L763.00,615.50M30.00,-115.00L763.00,618.00M30.00,-112.50L763.00,620.50M30.00,-110.00L763.00,623.00M30.00,-107.50L763.00,625.50M30.00,-105.00L763.00,628.00M30.00,-102.50L763.00,630.50M30.00,-100.00L763.00,633.00M30.00,-97.50L763.00,635.50M30.00,-95.00L763.00,638.00M30.00,-92.50L763.00,640.50M30.00,-90.00L763.00,643.00M30.00,-87.50L763.00,645.50M30.00,-85.00L763.00,648.00M30.00,-82.50L763.00,650.50M30.00,-80.00L763.00,653.00M30.00,-77.50L763.00,655.50M30.00,-75.00L763.00,658.00M30.00,-72.50L763.00,660.50M30.00,-70.00L763.00,663.00M30.00,-67.50L763.00,665.50M30.00,-65.00L763.00,668.00M30.00,-62.50L763.00,670.50M30.00,-60.00L763.00,673.00M30.00,-57.50L763.00,675.50M30.00,-55.00L763.00,678.00M30.00,-52.50L763.00,680.50M30.00,-50.00L763.00,683.00M30.00,-47.50L763.00,685.50M30.00,-45.00L763.00,688.00M30.00,-42.50L763.00,690.50M30.00,-40.00L763.00,693.00M30.00,-37.50L763.00,695.50M30.00,-35.00L763.00,698.00M30.00,-32.50L763.00,700.50M30.00,-30.00L763.00,703.00M30.00,-27.50L763.00,705.50M30.00,-25.00L763.00,708.00M30.00,-22.50L763.00,710.50M30.00,-20.00L763.00,713.00M30.00,-17.50L763.00,715.50M30.00,-15.00L763.00,718.00M30.00,-12.50L763.00,720.50M30.00,-10.00L763.00,723.00M30.00,-7.50L763.00,725.50M30.00,-5.00L763.00,728.00M30.00,-2.50L763.00,730.50M30.00,0.00L763.00,733.00M30.00,2.50L763.00,735.50M30.00,5.00L763.00,738.00M30.00,7.50L763.00,740.50M30.00,10.00L763.00,743.00M30.00,12.50L763.00,745.50M30.00,15.00L763.00,748.00M30.00,17.50L763.00,750.50M30.00,20.00L763.00,753.00M30.00,22.50L763.00,755.50M30.00,25.00L763.00,758.00M30.00,27.50L763.00,760.50M30.00,30.00L763.00,763.00M30.00,32.50L763.00,765.50M30.00,35.00L763.00,768.00M30.00,37.50L763.00,770.50M30.00,40.00L763.00,773.00M30.00,42.50L763.00,775.50M30.00,45.00L763.00,778.00M30.00,47.50L763.00,780.50M30.00,50.00L763.00,783.00M30.00,52.50L763.00,785.50M30.00,55.00L763.00,788.00M30.00,57.50L763.00,790.50M30.00,60.00L763.00,793.00M30.00,62.50L763.00,795.50M30.00,65.00L763.00,798.00M30.00,67.50L763.00,800.50M30.00,70.00L763.00,803.00M30.00,72.50L763.00,805.50M30.00,75.00L763.00,808.00M30.00,77.50L763.00,810.50M30.00,80.00L763.00,813.00M30.00,82.50L763.00,815.50M30.00,85.00L763.00,818.00M30.00,87.50L763.00,820.50M30.00,90.00L763.00,823.00M30.00,92.50L763.00,825.50M30.00,95.00L763.00,828.00M30.00,97.50L763.00,830.50M30.00,100.00L763.00,833.00M30.00,102.50L763.00,835.50M30.00,105.00L763.00,838.00M30.00,107.50L763.00,840.50M30.00,110.00L763.00,843.00M30.00,112.50L763.00,845.50M30.00,115.00L763.00,848.00M30.00,117.50L763.00,850.50M30.00,120.00L763.00,853.00M30.00,122.50L763.00,855.50M30.00,125.00L763.00,858.00M30.00,127.50L763.00,860.50M30.00,130.00L763.00,863.00M30.00,132.50L763.00,865.50M30.00,135.00L763.00,868.00M30.00,137.50L763.00,870.50M30.00,140.00L763.00,873.00M30.00,142.50L763.00,875.50M30.00,145.00L763.00,878.00M30.00,147.50L763.00,880.50M30.00,150.00L763.00,883.00M30.00,152.50L763.00,885.50M30.00,155.00L763.00,888.00M30.00,157.50L763.00,890.50M30.00,160.00L763.00,893.00M30.00,162.50L763.00,895.50M30.00,165.00L763.00,898.00M30.00,167.50L763.00,900.50M30.00,170.00L763.00,903.00M30.00,172.50L763.00,905.50M30.00,175.00L763.00,908.00M30.00,177.50L763.00,910.50M30.00,180.00L763.00,913.00M30.00,182.50L763.00,915.50M30.00,185.00L763.00,918.00M30.00,187.50L763.00,920.50M30.00,190.00L763.00,923.00M30.00,192.50L763.00,925.50M30.00,195.00L763.00,928.00M30.00,197.50L763.00,930.50M30.00,200.00L763.00,933.00M30.00,202.50L763.00,935.50M30.00,205.00L763.00,938.00M30.00,207.50L763.00,940.50M30.00,210.00L763.00,943.00M30.00,212.50L763.00,945.50M30.00,215.00L763.00,948.00M30.00,217.50L763.00,950.50M30.00,220.00L763.00,953.00M30.00,222.50L763.00,955.50M30.00,225.00L763.00,958.00M30.00,227.50L763.00,960.50M30.00,230.00L763.00,963.00M30.00,232.50L763.00,965.50M30.00,235.00L763.00,968.00M30.00,237.50L763.00,970.50M30.00,240.00L763.00,973.00M30.00,242.50L763.00,975.50M30.00,245.00L763.00,978.00M30.00,247.50L763.00,980.50M30.00,250.00L763.00,983.00M30.00,252.50L763.00,985.50M30.00,255.00L763.00,988.00M30.00,257.50L763.00,990.50M30.00,260.00L763.00,993.00M30.00,262.50L763.00,995.50M30.00,265.00L763.00,998.00M30.00,267.50L763.00,1000.50M30.00,270.00L763.00,1003.00M30.00,272.50L763.00,1005.50M30.00,275.00L763.00,1008.00M30.00,277.50L763.00,1010.50" stroke="#bcbcdc" stroke-width="0.5" fill="none" clip-path="url(#cr1)"/><rect x="55.83" y="267.44" width="16.25" height="3.98" fill="none" stroke="#bcbcdc" stroke-width="0.35"/><rect x="121.94" y="250.10" width="16.25" height="21.33" fill="none" stroke="#bcbcdc" stroke-width="0.35"/><rect x="188.06" y="257.25" width="16.25" height="14.17" fill="none" stroke="#bcbcdc" stroke-width="0.35"/><rect x="254.19" y="250.10" width="16.25" height="21.33" fill="none" stroke="#bcbcdc" stroke-width="0.35"/><rect x="320.31" y="265.27" width="16.25" height="6.15" fill="none" stroke="#bcbcdc" stroke-width="0.35"/><rect x="386.43" y="226.91" width="16.25" height="44.52" fill="none" stroke="#bcbcdc" stroke-width="0.35"/><rect x="452.55" y="226.26" width="16.25" height="45.17" fill="none" stroke="#bcbcdc" stroke-width="0.35"/><rect x="518.67" y="236.44" width="16.25" height="34.98" fill="none" stroke="#bcbcdc" stroke-width="0.35"/><rect x="584.79" y="233.41" width="16.25" height="38.01" fill="none" stroke="#bcbcdc" stroke-width="0.35"/><rect x="650.91" y="254.44" width="16.25" height="16.99" fill="none" stroke="#bcbcdc" stroke-width="0.35"/><rect x="717.03" y="212.60" width="16.25" height="58.82" fill="none" stroke="#bcbcdc" stroke-width="0.35"/>
<rect x="39.05" y="268.78" width="16.60" height="2.82" fill="#fa8072"/><rect x="105.17" y="270.08" width="16.60" height="1.52" fill="#fa8072"/><rect x="237.41" y="262.28" width="16.60" height="9.32" fill="#fa8072"/><rect x="369.65" y="242.77" width="16.60" height="28.83" fill="#fa8072"/><rect x="435.77" y="238.44" width="16.60" height="33.16" fill="#fa8072"/><rect x="501.89" y="239.74" width="16.60" height="31.86" fill="#fa8072"/><rect x="568.01" y="236.27" width="16.60" height="35.33" fill="#fa8072"/><rect x="634.13" y="259.25" width="16.60" height="12.35" fill="#fa8072"/><rect x="700.25" y="225.43" width="16.60" height="46.17" fill="#fa8072"/>
<rect x="55.65" y="267.92" width="16.60" height="3.68" fill="#bcbcdc"/><rect x="121.77" y="270.08" width="16.60" height="1.52" fill="#bcbcdc"/><rect x="187.89" y="268.78" width="16.60" height="2.82" fill="#bcbcdc"/><rect x="254.01" y="254.26" width="16.60" height="17.34" fill="#bcbcdc"/><rect x="320.13" y="267.27" width="16.60" height="4.33" fill="#bcbcdc"/><rect x="386.25" y="234.10" width="16.60" height="37.50" fill="#bcbcdc"/><rect x="452.37" y="234.75" width="16.60" height="36.85" fill="#bcbcdc"/><rect x="518.49" y="240.60" width="16.60" height="31.00" fill="#bcbcdc"/><rect x="584.61" y="238.44" width="16.60" height="33.16" fill="#bcbcdc"/><rect x="650.73" y="260.11" width="16.60" height="11.49" fill="#bcbcdc"/><rect x="716.85" y="223.26" width="16.60" height="48.34" fill="#bcbcdc"/>
<clipPath id="cpl"><rect x="72.25" y="260.98" width="16.60" height="10.62"/><rect x="138.37" y="190.32" width="16.60" height="81.28"/><rect x="204.49" y="143.93" width="16.60" height="127.67"/><rect x="270.61" y="133.53" width="16.60" height="138.07"/><rect x="336.73" y="244.72" width="16.60" height="26.88"/><rect x="402.85" y="140.47" width="16.60" height="131.13"/><rect x="468.97" y="154.77" width="16.60" height="116.83"/><rect x="535.09" y="152.82" width="16.60" height="118.78"/><rect x="601.21" y="192.49" width="16.60" height="79.11"/><rect x="667.33" y="133.10" width="16.60" height="138.50"/><rect x="733.45" y="140.68" width="16.60" height="130.92"/></clipPath><rect x="72.25" y="260.98" width="16.60" height="10.62" fill="#f4d0ea"/><rect x="138.37" y="190.32" width="16.60" height="81.28" fill="#f4d0ea"/><rect x="204.49" y="143.93" width="16.60" height="127.67" fill="#f4d0ea"/><rect x="270.61" y="133.53" width="16.60" height="138.07" fill="#f4d0ea"/><rect x="336.73" y="244.72" width="16.60" height="26.88" fill="#f4d0ea"/><rect x="402.85" y="140.47" width="16.60" height="131.13" fill="#f4d0ea"/><rect x="468.97" y="154.77" width="16.60" height="116.83" fill="#f4d0ea"/><rect x="535.09" y="152.82" width="16.60" height="118.78" fill="#f4d0ea"/><rect x="601.21" y="192.49" width="16.60" height="79.11" fill="#f4d0ea"/><rect x="667.33" y="133.10" width="16.60" height="138.50" fill="#f4d0ea"/><rect x="733.45" y="140.68" width="16.60" height="130.92" fill="#f4d0ea"/><path d="M30.00,-635.60L763.00,97.40M30.00,-633.00L763.00,100.00M30.00,-630.40L763.00,102.60M30.00,-627.80L763.00,105.20M30.00,-625.20L763.00,107.80M30.00,-622.60L763.00,110.40M30.00,-620.00L763.00,113.00M30.00,-617.40L763.00,115.60M30.00,-614.80L763.00,118.20M30.00,-612.20L763.00,120.80M30.00,-609.60L763.00,123.40M30.00,-607.00L763.00,126.00M30.00,-604.40L763.00,128.60M30.00,-601.80L763.00,131.20M30.00,-599.20L763.00,133.80M30.00,-596.60L763.00,136.40M30.00,-594.00L763.00,139.00M30.00,-591.40L763.00,141.60M30.00,-588.80L763.00,144.20M30.00,-586.20L763.00,146.80M30.00,-583.60L763.00,149.40M30.00,-581.00L763.00,152.00M30.00,-578.40L763.00,154.60M30.00,-575.80L763.00,157.20M30.00,-573.20L763.00,159.80M30.00,-570.60L763.00,162.40M30.00,-568.00L763.00,165.00M30.00,-565.40L763.00,167.60M30.00,-562.80L763.00,170.20M30.00,-560.20L763.00,172.80M30.00,-557.60L763.00,175.40M30.00,-555.00L763.00,178.00M30.00,-552.40L763.00,180.60M30.00,-549.80L763.00,183.20M30.00,-547.20L763.00,185.80M30.00,-544.60L763.00,188.40M30.00,-542.00L763.00,191.00M30.00,-539.40L763.00,193.60M30.00,-536.80L763.00,196.20M30.00,-534.20L763.00,198.80M30.00,-531.60L763.00,201.40M30.00,-529.00L763.00,204.00M30.00,-526.40L763.00,206.60M30.00,-523.80L763.00,209.20M30.00,-521.20L763.00,211.80M30.00,-518.60L763.00,214.40M30.00,-516.00L763.00,217.00M30.00,-513.40L763.00,219.60M30.00,-510.80L763.00,222.20M30.00,-508.20L763.00,224.80M30.00,-505.60L763.00,227.40M30.00,-503.00L763.00,230.00M30.00,-500.40L763.00,232.60M30.00,-497.80L763.00,235.20M30.00,-495.20L763.00,237.80M30.00,-492.60L763.00,240.40M30.00,-490.00L763.00,243.00M30.00,-487.40L763.00,245.60M30.00,-484.80L763.00,248.20M30.00,-482.20L763.00,250.80M30.00,-479.60L763.00,253.40M30.00,-477.00L763.00,256.00M30.00,-474.40L763.00,258.60M30.00,-471.80L763.00,261.20M30.00,-469.20L763.00,263.80M30.00,-466.60L763.00,266.40M30.00,-464.00L763.00,269.00M30.00,-461.40L763.00,271.60M30.00,-458.80L763.00,274.20M30.00,-456.20L763.00,276.80M30.00,-453.60L763.00,279.40M30.00,-451.00L763.00,282.00M30.00,-448.40L763.00,284.60M30.00,-445.80L763.00,287.20M30.00,-443.20L763.00,289.80M30.00,-440.60L763.00,292.40M30.00,-438.00L763.00,295.00M30.00,-435.40L763.00,297.60M30.00,-432.80L763.00,300.20M30.00,-430.20L763.00,302.80M30.00,-427.60L763.00,305.40M30.00,-425.00L763.00,308.00M30.00,-422.40L763.00,310.60M30.00,-419.80L763.00,313.20M30.00,-417.20L763.00,315.80M30.00,-414.60L763.00,318.40M30.00,-412.00L763.00,321.00M30.00,-409.40L763.00,323.60M30.00,-406.80L763.00,326.20M30.00,-404.20L763.00,328.80M30.00,-401.60L763.00,331.40M30.00,-399.00L763.00,334.00M30.00,-396.40L763.00,336.60M30.00,-393.80L763.00,339.20M30.00,-391.20L763.00,341.80M30.00,-388.60L763.00,344.40M30.00,-386.00L763.00,347.00M30.00,-383.40L763.00,349.60M30.00,-380.80L763.00,352.20M30.00,-378.20L763.00,354.80M30.00,-375.60L763.00,357.40M30.00,-373.00L763.00,360.00M30.00,-370.40L763.00,362.60M30.00,-367.80L763.00,365.20M30.00,-365.20L763.00,367.80M30.00,-362.60L763.00,370.40M30.00,-360.00L763.00,373.00M30.00,-357.40L763.00,375.60M30.00,-354.80L763.00,378.20M30.00,-352.20L763.00,380.80M30.00,-349.60L763.00,383.40M30.00,-347.00L763.00,386.00M30.00,-344.40L763.00,388.60M30.00,-341.80L763.00,391.20M30.00,-339.20L763.00,393.80M30.00,-336.60L763.00,396.40M30.00,-334.00L763.00,399.00M30.00,-331.40L763.00,401.60M30.00,-328.80L763.00,404.20M30.00,-326.20L763.00,406.80M30.00,-323.60L763.00,409.40M30.00,-321.00L763.00,412.00M30.00,-318.40L763.00,414.60M30.00,-315.80L763.00,417.20M30.00,-313.20L763.00,419.80M30.00,-310.60L763.00,422.40M30.00,-308.00L763.00,425.00M30.00,-305.40L763.00,427.60M30.00,-302.80L763.00,430.20M30.00,-300.20L763.00,432.80M30.00,-297.60L763.00,435.40M30.00,-295.00L763.00,438.00M30.00,-292.40L763.00,440.60M30.00,-289.80L763.00,443.20M30.00,-287.20L763.00,445.80M30.00,-284.60L763.00,448.40M30.00,-282.00L763.00,451.00M30.00,-279.40L763.00,453.60M30.00,-276.80L763.00,456.20M30.00,-274.20L763.00,458.80M30.00,-271.60L763.00,461.40M30.00,-269.00L763.00,464.00M30.00,-266.40L763.00,466.60M30.00,-263.80L763.00,469.20M30.00,-261.20L763.00,471.80M30.00,-258.60L763.00,474.40M30.00,-256.00L763.00,477.00M30.00,-253.40L763.00,479.60M30.00,-250.80L763.00,482.20M30.00,-248.20L763.00,484.80M30.00,-245.60L763.00,487.40M30.00,-243.00L763.00,490.00M30.00,-240.40L763.00,492.60M30.00,-237.80L763.00,495.20M30.00,-235.20L763.00,497.80M30.00,-232.60L763.00,500.40M30.00,-230.00L763.00,503.00M30.00,-227.40L763.00,505.60M30.00,-224.80L763.00,508.20M30.00,-222.20L763.00,510.80M30.00,-219.60L763.00,513.40M30.00,-217.00L763.00,516.00M30.00,-214.40L763.00,518.60M30.00,-211.80L763.00,521.20M30.00,-209.20L763.00,523.80M30.00,-206.60L763.00,526.40M30.00,-204.00L763.00,529.00M30.00,-201.40L763.00,531.60M30.00,-198.80L763.00,534.20M30.00,-196.20L763.00,536.80M30.00,-193.60L763.00,539.40M30.00,-191.00L763.00,542.00M30.00,-188.40L763.00,544.60M30.00,-185.80L763.00,547.20M30.00,-183.20L763.00,549.80M30.00,-180.60L763.00,552.40M30.00,-178.00L763.00,555.00M30.00,-175.40L763.00,557.60M30.00,-172.80L763.00,560.20M30.00,-170.20L763.00,562.80M30.00,-167.60L763.00,565.40M30.00,-165.00L763.00,568.00M30.00,-162.40L763.00,570.60M30.00,-159.80L763.00,573.20M30.00,-157.20L763.00,575.80M30.00,-154.60L763.00,578.40M30.00,-152.00L763.00,581.00M30.00,-149.40L763.00,583.60M30.00,-146.80L763.00,586.20M30.00,-144.20L763.00,588.80M30.00,-141.60L763.00,591.40M30.00,-139.00L763.00,594.00M30.00,-136.40L763.00,596.60M30.00,-133.80L763.00,599.20M30.00,-131.20L763.00,601.80M30.00,-128.60L763.00,604.40M30.00,-126.00L763.00,607.00M30.00,-123.40L763.00,609.60M30.00,-120.80L763.00,612.20M30.00,-118.20L763.00,614.80M30.00,-115.60L763.00,617.40M30.00,-113.00L763.00,620.00M30.00,-110.40L763.00,622.60M30.00,-107.80L763.00,625.20M30.00,-105.20L763.00,627.80M30.00,-102.60L763.00,630.40M30.00,-100.00L763.00,633.00M30.00,-97.40L763.00,635.60M30.00,-94.80L763.00,638.20M30.00,-92.20L763.00,640.80M30.00,-89.60L763.00,643.40M30.00,-87.00L763.00,646.00M30.00,-84.40L763.00,648.60M30.00,-81.80L763.00,651.20M30.00,-79.20L763.00,653.80M30.00,-76.60L763.00,656.40M30.00,-74.00L763.00,659.00M30.00,-71.40L763.00,661.60M30.00,-68.80L763.00,664.20M30.00,-66.20L763.00,666.80M30.00,-63.60L763.00,669.40M30.00,-61.00L763.00,672.00M30.00,-58.40L763.00,674.60M30.00,-55.80L763.00,677.20M30.00,-53.20L763.00,679.80M30.00,-50.60L763.00,682.40M30.00,-48.00L763.00,685.00M30.00,-45.40L763.00,687.60M30.00,-42.80L763.00,690.20M30.00,-40.20L763.00,692.80M30.00,-37.60L763.00,695.40M30.00,-35.00L763.00,698.00M30.00,-32.40L763.00,700.60M30.00,-29.80L763.00,703.20M30.00,-27.20L763.00,705.80M30.00,-24.60L763.00,708.40M30.00,-22.00L763.00,711.00M30.00,-19.40L763.00,713.60M30.00,-16.80L763.00,716.20M30.00,-14.20L763.00,718.80M30.00,-11.60L763.00,721.40M30.00,-9.00L763.00,724.00M30.00,-6.40L763.00,726.60M30.00,-3.80L763.00,729.20M30.00,-1.20L763.00,731.80M30.00,1.40L763.00,734.40M30.00,4.00L763.00,737.00M30.00,6.60L763.00,739.60M30.00,9.20L763.00,742.20M30.00,11.80L763.00,744.80M30.00,14.40L763.00,747.40M30.00,17.00L763.00,750.00M30.00,19.60L763.00,752.60M30.00,22.20L763.00,755.20M30.00,24.80L763.00,757.80M30.00,27.40L763.00,760.40M30.00,30.00L763.00,763.00M30.00,32.60L763.00,765.60M30.00,35.20L763.00,768.20M30.00,37.80L763.00,770.80M30.00,40.40L763.00,773.40M30.00,43.00L763.00,776.00M30.00,45.60L763.00,778.60M30.00,48.20L763.00,781.20M30.00,50.80L763.00,783.80M30.00,53.40L763.00,786.40M30.00,56.00L763.00,789.00M30.00,58.60L763.00,791.60M30.00,61.20L763.00,794.20M30.00,63.80L763.00,796.80M30.00,66.40L763.00,799.40M30.00,69.00L763.00,802.00M30.00,71.60L763.00,804.60M30.00,74.20L763.00,807.20M30.00,76.80L763.00,809.80M30.00,79.40L763.00,812.40M30.00,82.00L763.00,815.00M30.00,84.60L763.00,817.60M30.00,87.20L763.00,820.20M30.00,89.80L763.00,822.80M30.00,92.40L763.00,825.40M30.00,95.00L763.00,828.00M30.00,97.60L763.00,830.60M30.00,100.20L763.00,833.20M30.00,102.80L763.00,835.80M30.00,105.40L763.00,838.40M30.00,108.00L763.00,841.00M30.00,110.60L763.00,843.60M30.00,113.20L763.00,846.20M30.00,115.80L763.00,848.80M30.00,118.40L763.00,851.40M30.00,121.00L763.00,854.00M30.00,123.60L763.00,856.60M30.00,126.20L763.00,859.20M30.00,128.80L763.00,861.80M30.00,131.40L763.00,864.40M30.00,134.00L763.00,867.00M30.00,136.60L763.00,869.60M30.00,139.20L763.00,872.20M30.00,141.80L763.00,874.80M30.00,144.40L763.00,877.40M30.00,147.00L763.00,880.00M30.00,149.60L763.00,882.60M30.00,152.20L763.00,885.20M30.00,154.80L763.00,887.80M30.00,157.40L763.00,890.40M30.00,160.00L763.00,893.00M30.00,162.60L763.00,895.60M30.00,165.20L763.00,898.20M30.00,167.80L763.00,900.80M30.00,170.40L763.00,903.40M30.00,173.00L763.00,906.00M30.00,175.60L763.00,908.60M30.00,178.20L763.00,911.20M30.00,180.80L763.00,913.80M30.00,183.40L763.00,916.40M30.00,186.00L763.00,919.00M30.00,188.60L763.00,921.60M30.00,191.20L763.00,924.20M30.00,193.80L763.00,926.80M30.00,196.40L763.00,929.40M30.00,199.00L763.00,932.00M30.00,201.60L763.00,934.60M30.00,204.20L763.00,937.20M30.00,206.80L763.00,939.80M30.00,209.40L763.00,942.40M30.00,212.00L763.00,945.00M30.00,214.60L763.00,947.60M30.00,217.20L763.00,950.20M30.00,219.80L763.00,952.80M30.00,222.40L763.00,955.40M30.00,225.00L763.00,958.00M30.00,227.60L763.00,960.60M30.00,230.20L763.00,963.20M30.00,232.80L763.00,965.80M30.00,235.40L763.00,968.40M30.00,238.00L763.00,971.00M30.00,240.60L763.00,973.60M30.00,243.20L763.00,976.20M30.00,245.80L763.00,978.80M30.00,248.40L763.00,981.40M30.00,251.00L763.00,984.00M30.00,253.60L763.00,986.60M30.00,256.20L763.00,989.20M30.00,258.80L763.00,991.80M30.00,261.40L763.00,994.40M30.00,264.00L763.00,997.00M30.00,266.60L763.00,999.60M30.00,269.20L763.00,1002.20M30.00,271.80L763.00,1004.80M30.00,274.40L763.00,1007.40M30.00,277.00L763.00,1010.00M30.00,279.60L763.00,1012.60" stroke="#7c5e78" stroke-width="0.92" fill="none" clip-path="url(#cpl)"/>
<text x="46.05" y="247.72" text-anchor="middle" textLength="12.15" lengthAdjust="spacingAndGlyphs" font-size="8.16" fill="#1e1e1e" stroke="#1e1e1e" stroke-width="0.18">2.7</text>
<text x="46.05" y="258.52" text-anchor="middle" textLength="12.15" lengthAdjust="spacingAndGlyphs" font-size="8.16" fill="#1e1e1e" stroke="#1e1e1e" stroke-width="0.18">1.3</text>
<text x="46.05" y="269.92" text-anchor="middle" textLength="12.15" lengthAdjust="spacingAndGlyphs" font-size="8.16" fill="#1e1e1e" stroke="#1e1e1e" stroke-width="0.18">1.3</text>
<text x="63.95" y="245.52" text-anchor="middle" textLength="12.15" lengthAdjust="spacingAndGlyphs" font-size="8.16" fill="#1e1e1e" stroke="#1e1e1e" stroke-width="0.18">3.7</text>
<text x="63.95" y="256.22" text-anchor="middle" textLength="12.15" lengthAdjust="spacingAndGlyphs" font-size="8.16" fill="#1e1e1e" stroke="#1e1e1e" stroke-width="0.18">2.0</text>
<text x="63.95" y="268.82" text-anchor="middle" textLength="12.15" lengthAdjust="spacingAndGlyphs" font-size="8.16" fill="#1e1e1e" stroke="#1e1e1e" stroke-width="0.18">1.7</text>
<text x="80.55" y="255.79" text-anchor="middle" textLength="12.15" lengthAdjust="spacingAndGlyphs" font-size="8.16" fill="#1e1e1e" stroke="#1e1e1e" stroke-width="0.18">4.9</text>
<text x="63.95" y="280.14" text-anchor="middle" textLength="43.95" lengthAdjust="spacingAndGlyphs" font-size="7.36" fill="#1e1e1e" stroke="#1e1e1e" stroke-width="0.08">P2Rank-Vina</text>
<text x="112.17" y="231.90" text-anchor="middle" textLength="17.01" lengthAdjust="spacingAndGlyphs" font-size="8.16" fill="#1e1e1e" stroke="#1e1e1e" stroke-width="0.18">15.0</text>
<text x="112.17" y="242.74" text-anchor="middle" textLength="17.01" lengthAdjust="spacingAndGlyphs" font-size="8.16" fill="#1e1e1e" stroke="#1e1e1e" stroke-width="0.18">10.0</text>
<text x="112.17" y="270.22" text-anchor="middle" textLength="12.15" lengthAdjust="spacingAndGlyphs" font-size="8.16" fill="#1e1e1e" stroke="#1e1e1e" stroke-width="0.18">0.7</text>
<text x="130.07" y="231.90" text-anchor="middle" textLength="17.01" lengthAdjust="spacingAndGlyphs" font-size="8.16" fill="#1e1e1e" stroke="#1e1e1e" stroke-width="0.18">15.0</text>
<text x="130.07" y="242.74" text-anchor="middle" textLength="17.01" lengthAdjust="spacingAndGlyphs" font-size="8.16" fill="#1e1e1e" stroke="#1e1e1e" stroke-width="0.18">10.0</text>
<text x="130.07" y="270.22" text-anchor="middle" textLength="12.15" lengthAdjust="spacingAndGlyphs" font-size="8.16" fill="#1e1e1e" stroke="#1e1e1e" stroke-width="0.18">0.7</text>
<text x="146.67" y="185.13" text-anchor="middle" textLength="17.01" lengthAdjust="spacingAndGlyphs" font-size="8.16" fill="#1e1e1e" stroke="#1e1e1e" stroke-width="0.18">37.5</text>
<text x="130.07" y="280.14" text-anchor="middle" textLength="35.97" lengthAdjust="spacingAndGlyphs" font-size="7.36" fill="#1e1e1e" stroke="#1e1e1e" stroke-width="0.08">DiffDock-L</text>
<text x="178.29" y="227.02" text-anchor="middle" textLength="17.01" lengthAdjust="spacingAndGlyphs" font-size="8.16" fill="#1e1e1e" stroke="#1e1e1e" stroke-width="0.18">12.3</text>
<text x="178.29" y="237.92" text-anchor="middle" textLength="12.15" lengthAdjust="spacingAndGlyphs" font-size="8.16" fill="#1e1e1e" stroke="#1e1e1e" stroke-width="0.18">9.0</text>
<text x="178.29" y="270.62" text-anchor="middle" textLength="12.15" lengthAdjust="spacingAndGlyphs" font-size="8.16" fill="#1e1e1e" stroke="#1e1e1e" stroke-width="0.18">0.0</text>
<text x="196.19" y="231.12" text-anchor="middle" textLength="17.01" lengthAdjust="spacingAndGlyphs" font-size="8.16" fill="#1e1e1e" stroke="#1e1e1e" stroke-width="0.18">10.3</text>
<text x="196.19" y="242.22" text-anchor="middle" textLength="12.15" lengthAdjust="spacingAndGlyphs" font-size="8.16" fill="#1e1e1e" stroke="#1e1e1e" stroke-width="0.18">6.7</text>
<text x="196.19" y="269.22" text-anchor="middle" textLength="12.15" lengthAdjust="spacingAndGlyphs" font-size="8.16" fill="#1e1e1e" stroke="#1e1e1e" stroke-width="0.18">1.3</text>
<text x="212.79" y="138.75" text-anchor="middle" textLength="17.01" lengthAdjust="spacingAndGlyphs" font-size="8.16" fill="#1e1e1e" stroke="#1e1e1e" stroke-width="0.18">58.9</text>
<text x="196.19" y="280.14" text-anchor="middle" textLength="46.13" lengthAdjust="spacingAndGlyphs" font-size="7.36" fill="#1e1e1e" stroke="#1e1e1e" stroke-width="0.08">DynamicBind</text>
<text x="244.41" y="203.73" text-anchor="middle" textLength="17.01" lengthAdjust="spacingAndGlyphs" font-size="8.16" fill="#1e1e1e" stroke="#1e1e1e" stroke-width="0.18">28.0</text>
<text x="244.41" y="235.59" text-anchor="middle" textLength="17.01" lengthAdjust="spacingAndGlyphs" font-size="8.16" fill="#1e1e1e" stroke="#1e1e1e" stroke-width="0.18">13.3</text>
<text x="244.41" y="268.62" text-anchor="middle" textLength="12.15" lengthAdjust="spacingAndGlyphs" font-size="8.16" fill="#1e1e1e" stroke="#1e1e1e" stroke-width="0.18">4.3</text>
<text x="262.31" y="212.40" text-anchor="middle" textLength="17.01" lengthAdjust="spacingAndGlyphs" font-size="8.16" fill="#1e1e1e" stroke="#1e1e1e" stroke-width="0.18">24.0</text>
<text x="262.31" y="242.74" text-anchor="middle" textLength="17.01" lengthAdjust="spacingAndGlyphs" font-size="8.16" fill="#1e1e1e" stroke="#1e1e1e" stroke-width="0.18">10.0</text>
<text x="262.31" y="262.12" text-anchor="middle" textLength="12.15" lengthAdjust="spacingAndGlyphs" font-size="8.16" fill="#1e1e1e" stroke="#1e1e1e" stroke-width="0.18">8.0</text>
<text x="278.91" y="128.35" text-anchor="middle" textLength="17.01" lengthAdjust="spacingAndGlyphs" font-size="8.16" fill="#1e1e1e" stroke="#1e1e1e" stroke-width="0.18">63.7</text>
<text x="262.31" y="280.14" text-anchor="middle" textLength="46.47" lengthAdjust="spacingAndGlyphs" font-size="7.36" fill="#1e1e1e" stroke="#1e1e1e" stroke-width="0.08">NeuralPLexer</text>
<text x="310.53" y="234.02" text-anchor="middle" textLength="17.01" lengthAdjust="spacingAndGlyphs" font-size="8.16" fill="#1e1e1e" stroke="#1e1e1e" stroke-width="0.18">14.0</text>
<text x="310.53" y="255.52" text-anchor="middle" textLength="12.15" lengthAdjust="spacingAndGlyphs" font-size="8.16" fill="#1e1e1e" stroke="#1e1e1e" stroke-width="0.18">4.0</text>
<text x="310.53" y="271.02" text-anchor="middle" textLength="12.15" lengthAdjust="spacingAndGlyphs" font-size="8.16" fill="#1e1e1e" stroke="#1e1e1e" stroke-width="0.18">0.0</text>
<text x="328.43" y="242.82" text-anchor="middle" textLength="17.01" lengthAdjust="spacingAndGlyphs" font-size="8.16" fill="#1e1e1e" stroke="#1e1e1e" stroke-width="0.18">10.0</text>
<text x="328.43" y="257.92" text-anchor="middle" textLength="12.15" lengthAdjust="spacingAndGlyphs" font-size="8.16" fill="#1e1e1e" stroke="#1e1e1e" stroke-width="0.18">3.0</text>
<text x="328.43" y="268.52" text-anchor="middle" textLength="12.15" lengthAdjust="spacingAndGlyphs" font-size="8.16" fill="#1e1e1e" stroke="#1e1e1e" stroke-width="0.18">2.0</text>
<text x="345.03" y="239.54" text-anchor="middle" textLength="17.01" lengthAdjust="spacingAndGlyphs" font-size="8.16" fill="#1e1e1e" stroke="#1e1e1e" stroke-width="0.18">12.4</text>
<text x="328.43" y="280.14" text-anchor="middle" textLength="18.32" lengthAdjust="spacingAndGlyphs" font-size="7.36" fill="#1e1e1e" stroke="#1e1e1e" stroke-width="0.08">RFAA</text>
<text x="376.65" y="177.72" text-anchor="middle" textLength="17.01" lengthAdjust="spacingAndGlyphs" font-size="8.16" fill="#1e1e1e" stroke="#1e1e1e" stroke-width="0.18">40.0</text>
<text x="376.65" y="218.90" text-anchor="middle" textLength="17.01" lengthAdjust="spacingAndGlyphs" font-size="8.16" fill="#1e1e1e" stroke="#1e1e1e" stroke-width="0.18">21.0</text>
<text x="376.65" y="255.92" text-anchor="middle" textLength="17.01" lengthAdjust="spacingAndGlyphs" font-size="8.16" fill="#1e1e1e" stroke="#1e1e1e" stroke-width="0.18">13.3</text>
<text x="394.55" y="182.05" text-anchor="middle" textLength="17.01" lengthAdjust="spacingAndGlyphs" font-size="8.16" fill="#1e1e1e" stroke="#1e1e1e" stroke-width="0.18">38.0</text>
<text x="394.55" y="219.55" text-anchor="middle" textLength="17.01" lengthAdjust="spacingAndGlyphs" font-size="8.16" fill="#1e1e1e" stroke="#1e1e1e" stroke-width="0.18">20.7</text>
<text x="394.55" y="252.02" text-anchor="middle" textLength="17.01" lengthAdjust="spacingAndGlyphs" font-size="8.16" fill="#1e1e1e" stroke="#1e1e1e" stroke-width="0.18">17.3</text>
<text x="411.15" y="135.28" text-anchor="middle" textLength="17.01" lengthAdjust="spacingAndGlyphs" font-size="8.16" fill="#1e1e1e" stroke="#1e1e1e" stroke-width="0.18">60.5</text>
<text x="394.55" y="280.14" text-anchor="middle" textLength="61.80" lengthAdjust="spacingAndGlyphs" font-size="7.36" fill="#1e1e1e" stroke="#1e1e1e" stroke-width="0.08">Chai-1-Single-Seq</text>
<text x="442.77" y="163.19" text-anchor="middle" textLength="17.01" lengthAdjust="spacingAndGlyphs" font-size="8.16" fill="#1e1e1e" stroke="#1e1e1e" stroke-width="0.18">46.7</text>
<text x="442.77" y="212.40" text-anchor="middle" textLength="17.01" lengthAdjust="spacingAndGlyphs" font-size="8.16" fill="#1e1e1e" stroke="#1e1e1e" stroke-width="0.18">24.0</text>
<text x="442.77" y="253.83" text-anchor="middle" textLength="17.01" lengthAdjust="spacingAndGlyphs" font-size="8.16" fill="#1e1e1e" stroke="#1e1e1e" stroke-width="0.18">15.3</text>
<text x="460.67" y="171.86" text-anchor="middle" textLength="17.01" lengthAdjust="spacingAndGlyphs" font-size="8.16" fill="#1e1e1e" stroke="#1e1e1e" stroke-width="0.18">42.7</text>
<text x="460.67" y="218.90" text-anchor="middle" textLength="17.01" lengthAdjust="spacingAndGlyphs" font-size="8.16" fill="#1e1e1e" stroke="#1e1e1e" stroke-width="0.18">21.0</text>
<text x="460.67" y="251.99" text-anchor="middle" textLength="17.01" lengthAdjust="spacingAndGlyphs" font-size="8.16" fill="#1e1e1e" stroke="#1e1e1e" stroke-width="0.18">17.0</text>
<text x="477.27" y="149.59" text-anchor="middle" textLength="17.01" lengthAdjust="spacingAndGlyphs" font-size="8.16" fill="#1e1e1e" stroke="#1e1e1e" stroke-width="0.18">53.9</text>
<text x="460.67" y="280.14" text-anchor="middle" textLength="22.36" lengthAdjust="spacingAndGlyphs" font-size="7.36" fill="#1e1e1e" stroke="#1e1e1e" stroke-width="0.08">Chai-1</text>
<text x="508.89" y="184.22" text-anchor="middle" textLength="17.01" lengthAdjust="spacingAndGlyphs" font-size="8.16" fill="#1e1e1e" stroke="#1e1e1e" stroke-width="0.18">37.0</text>
<text x="508.89" y="226.05" text-anchor="middle" textLength="17.01" lengthAdjust="spacingAndGlyphs" font-size="8.16" fill="#1e1e1e" stroke="#1e1e1e" stroke-width="0.18">17.7</text>
<text x="508.89" y="254.48" text-anchor="middle" textLength="17.01" lengthAdjust="spacingAndGlyphs" font-size="8.16" fill="#1e1e1e" stroke="#1e1e1e" stroke-width="0.18">14.7</text>
<text x="526.79" y="190.72" text-anchor="middle" textLength="17.01" lengthAdjust="spacingAndGlyphs" font-size="8.16" fill="#1e1e1e" stroke="#1e1e1e" stroke-width="0.18">34.0</text>
<text x="526.79" y="229.08" text-anchor="middle" textLength="17.01" lengthAdjust="spacingAndGlyphs" font-size="8.16" fill="#1e1e1e" stroke="#1e1e1e" stroke-width="0.18">16.3</text>
<text x="526.79" y="254.92" text-anchor="middle" textLength="17.01" lengthAdjust="spacingAndGlyphs" font-size="8.16" fill="#1e1e1e" stroke="#1e1e1e" stroke-width="0.18">14.3</text>
<text x="543.39" y="147.64" text-anchor="middle" textLength="17.01" lengthAdjust="spacingAndGlyphs" font-size="8.16" fill="#1e1e1e" stroke="#1e1e1e" stroke-width="0.18">54.8</text>
<text x="526.79" y="280.14" text-anchor="middle" textLength="63.68" lengthAdjust="spacingAndGlyphs" font-size="7.36" fill="#1e1e1e" stroke="#1e1e1e" stroke-width="0.08">Boltz-1-Single-Seq</text>
<text x="575.01" y="186.39" text-anchor="middle" textLength="17.01" lengthAdjust="spacingAndGlyphs" font-size="8.16" fill="#1e1e1e" stroke="#1e1e1e" stroke-width="0.18">36.0</text>
<text x="575.01" y="222.58" text-anchor="middle" textLength="17.01" lengthAdjust="spacingAndGlyphs" font-size="8.16" fill="#1e1e1e" stroke="#1e1e1e" stroke-width="0.18">19.3</text>
<text x="575.01" y="252.75" text-anchor="middle" textLength="17.01" lengthAdjust="spacingAndGlyphs" font-size="8.16" fill="#1e1e1e" stroke="#1e1e1e" stroke-width="0.18">16.3</text>
<text x="592.91" y="197.22" text-anchor="middle" textLength="17.01" lengthAdjust="spacingAndGlyphs" font-size="8.16" fill="#1e1e1e" stroke="#1e1e1e" stroke-width="0.18">31.0</text>
<text x="592.91" y="226.05" text-anchor="middle" textLength="17.01" lengthAdjust="spacingAndGlyphs" font-size="8.16" fill="#1e1e1e" stroke="#1e1e1e" stroke-width="0.18">17.7</text>
<text x="592.91" y="253.83" text-anchor="middle" textLength="17.01" lengthAdjust="spacingAndGlyphs" font-size="8.16" fill="#1e1e1e" stroke="#1e1e1e" stroke-width="0.18">15.3</text>
<text x="609.51" y="187.30" text-anchor="middle" textLength="17.01" lengthAdjust="spacingAndGlyphs" font-size="8.16" fill="#1e1e1e" stroke="#1e1e1e" stroke-width="0.18">36.5</text>
<text x="592.91" y="280.14" text-anchor="middle" textLength="24.23" lengthAdjust="spacingAndGlyphs" font-size="7.36" fill="#1e1e1e" stroke="#1e1e1e" stroke-width="0.08">Boltz-1</text>
<text x="641.13" y="230.12" text-anchor="middle" textLength="17.01" lengthAdjust="spacingAndGlyphs" font-size="8.16" fill="#1e1e1e" stroke="#1e1e1e" stroke-width="0.18">15.7</text>
<text x="641.13" y="244.32" text-anchor="middle" textLength="12.15" lengthAdjust="spacingAndGlyphs" font-size="8.16" fill="#1e1e1e" stroke="#1e1e1e" stroke-width="0.18">9.7</text>
<text x="641.13" y="267.42" text-anchor="middle" textLength="12.15" lengthAdjust="spacingAndGlyphs" font-size="8.16" fill="#1e1e1e" stroke="#1e1e1e" stroke-width="0.18">5.7</text>
<text x="659.03" y="235.12" text-anchor="middle" textLength="17.01" lengthAdjust="spacingAndGlyphs" font-size="8.16" fill="#1e1e1e" stroke="#1e1e1e" stroke-width="0.18">13.0</text>
<text x="659.03" y="247.02" text-anchor="middle" textLength="12.15" lengthAdjust="spacingAndGlyphs" font-size="8.16" fill="#1e1e1e" stroke="#1e1e1e" stroke-width="0.18">8.0</text>
<text x="659.03" y="264.92" text-anchor="middle" textLength="12.15" lengthAdjust="spacingAndGlyphs" font-size="8.16" fill="#1e1e1e" stroke="#1e1e1e" stroke-width="0.18">5.3</text>
<text x="675.63" y="127.91" text-anchor="middle" textLength="17.01" lengthAdjust="spacingAndGlyphs" font-size="8.16" fill="#1e1e1e" stroke="#1e1e1e" stroke-width="0.18">63.9</text>
<text x="659.03" y="280.14" text-anchor="middle" textLength="52.61" lengthAdjust="spacingAndGlyphs" font-size="7.36" fill="#1e1e1e" stroke="#1e1e1e" stroke-width="0.08">AF3-Single-Seq</text>
<text x="707.25" y="135.02" text-anchor="middle" textLength="17.01" lengthAdjust="spacingAndGlyphs" font-size="8.16" fill="#1e1e1e" stroke="#1e1e1e" stroke-width="0.18">59.7</text>
<text x="707.25" y="202.21" text-anchor="middle" textLength="17.01" lengthAdjust="spacingAndGlyphs" font-size="8.16" fill="#1e1e1e" stroke="#1e1e1e" stroke-width="0.18">28.7</text>
<text x="707.25" y="246.62" text-anchor="middle" textLength="17.01" lengthAdjust="spacingAndGlyphs" font-size="8.16" fill="#1e1e1e" stroke="#1e1e1e" stroke-width="0.18">21.3</text>
<text x="725.15" y="144.55" text-anchor="middle" textLength="17.01" lengthAdjust="spacingAndGlyphs" font-size="8.16" fill="#1e1e1e" stroke="#1e1e1e" stroke-width="0.18">55.3</text>
<text x="725.15" y="205.24" text-anchor="middle" textLength="17.01" lengthAdjust="spacingAndGlyphs" font-size="8.16" fill="#1e1e1e" stroke="#1e1e1e" stroke-width="0.18">27.3</text>
<text x="725.15" y="245.32" text-anchor="middle" textLength="17.01" lengthAdjust="spacingAndGlyphs" font-size="8.16" fill="#1e1e1e" stroke="#1e1e1e" stroke-width="0.18">22.3</text>
<text x="741.75" y="135.50" text-anchor="middle" textLength="17.01" lengthAdjust="spacingAndGlyphs" font-size="8.16" fill="#1e1e1e" stroke="#1e1e1e" stroke-width="0.18">60.4</text>
<text x="725.15" y="280.14" text-anchor="middle" textLength="13.16" lengthAdjust="spacingAndGlyphs" font-size="7.36" fill="#1e1e1e" stroke="#1e1e1e" stroke-width="0.08">AF3</text>
<line x1="63.95" y1="263.30" x2="63.95" y2="271.60" stroke="#3c3c3c" stroke-width="0.7"/>
<line x1="113.47" y1="236.20" x2="113.47" y2="242.30" stroke="#3c3c3c" stroke-width="0.7"/>
<line x1="179.59" y1="243.90" x2="179.59" y2="246.70" stroke="#3c3c3c" stroke-width="0.7"/>
<line x1="196.19" y1="246.50" x2="196.19" y2="272.00" stroke="#3c3c3c" stroke-width="0.7"/>
<line x1="245.71" y1="209.10" x2="245.71" y2="213.00" stroke="#3c3c3c" stroke-width="0.7"/>
<line x1="245.71" y1="237.60" x2="245.71" y2="249.10" stroke="#3c3c3c" stroke-width="0.7"/>
<line x1="245.71" y1="259.30" x2="245.71" y2="262.00" stroke="#3c3c3c" stroke-width="0.7"/>
<line x1="262.31" y1="210.70" x2="262.31" y2="228.00" stroke="#3c3c3c" stroke-width="0.7"/>
<line x1="262.31" y1="245.70" x2="262.31" y2="261.70" stroke="#3c3c3c" stroke-width="0.7"/>
<line x1="377.95" y1="182.20" x2="377.95" y2="188.50" stroke="#3c3c3c" stroke-width="0.7"/>
<line x1="377.95" y1="219.00" x2="377.95" y2="233.60" stroke="#3c3c3c" stroke-width="0.7"/>
<line x1="377.95" y1="240.40" x2="377.95" y2="246.30" stroke="#3c3c3c" stroke-width="0.7"/>
<line x1="394.55" y1="187.50" x2="394.55" y2="191.40" stroke="#3c3c3c" stroke-width="0.7"/>
<line x1="394.55" y1="223.80" x2="394.55" y2="237.50" stroke="#3c3c3c" stroke-width="0.7"/>
<line x1="444.07" y1="164.80" x2="444.07" y2="177.30" stroke="#3c3c3c" stroke-width="0.7"/>
<line x1="444.07" y1="217.90" x2="444.07" y2="223.10" stroke="#3c3c3c" stroke-width="0.7"/>
<line x1="444.07" y1="236.70" x2="444.07" y2="241.40" stroke="#3c3c3c" stroke-width="0.7"/>
<line x1="460.67" y1="173.40" x2="460.67" y2="185.70" stroke="#3c3c3c" stroke-width="0.7"/>
<line x1="460.67" y1="225.00" x2="460.67" y2="228.90" stroke="#3c3c3c" stroke-width="0.7"/>
<line x1="460.67" y1="232.80" x2="460.67" y2="237.20" stroke="#3c3c3c" stroke-width="0.7"/>
<line x1="510.19" y1="183.60" x2="510.19" y2="199.40" stroke="#3c3c3c" stroke-width="0.7"/>
<line x1="510.19" y1="229.50" x2="510.19" y2="241.00" stroke="#3c3c3c" stroke-width="0.7"/>
<line x1="526.79" y1="190.30" x2="526.79" y2="211.90" stroke="#3c3c3c" stroke-width="0.7"/>
<line x1="526.79" y1="235.90" x2="526.79" y2="239.70" stroke="#3c3c3c" stroke-width="0.7"/>
<line x1="576.31" y1="185.10" x2="576.31" y2="203.90" stroke="#3c3c3c" stroke-width="0.7"/>
<line x1="576.31" y1="227.40" x2="576.31" y2="238.00" stroke="#3c3c3c" stroke-width="0.7"/>
<line x1="592.91" y1="197.50" x2="592.91" y2="212.10" stroke="#3c3c3c" stroke-width="0.7"/>
<line x1="592.91" y1="232.70" x2="592.91" y2="241.10" stroke="#3c3c3c" stroke-width="0.7"/>
<line x1="642.43" y1="232.30" x2="642.43" y2="243.20" stroke="#3c3c3c" stroke-width="0.7"/>
<line x1="642.43" y1="249.50" x2="642.43" y2="252.50" stroke="#3c3c3c" stroke-width="0.7"/>
<line x1="642.43" y1="257.50" x2="642.43" y2="261.00" stroke="#3c3c3c" stroke-width="0.7"/>
<line x1="659.03" y1="240.50" x2="659.03" y2="247.50" stroke="#3c3c3c" stroke-width="0.7"/>
<line x1="659.03" y1="257.50" x2="659.03" y2="264.50" stroke="#3c3c3c" stroke-width="0.7"/>
<line x1="708.55" y1="138.00" x2="708.55" y2="147.50" stroke="#3c3c3c" stroke-width="0.7"/>
<line x1="708.55" y1="208.70" x2="708.55" y2="212.00" stroke="#3c3c3c" stroke-width="0.7"/>
<line x1="708.55" y1="223.00" x2="708.55" y2="227.30" stroke="#3c3c3c" stroke-width="0.7"/>
<line x1="725.15" y1="144.50" x2="725.15" y2="158.40" stroke="#3c3c3c" stroke-width="0.7"/>
<line x1="725.15" y1="211.40" x2="725.15" y2="214.60" stroke="#3c3c3c" stroke-width="0.7"/>
<line x1="725.15" y1="222.00" x2="725.15" y2="225.20" stroke="#3c3c3c" stroke-width="0.7"/>
<text x="28.50" y="275.04" text-anchor="end" textLength="11.02" lengthAdjust="spacingAndGlyphs" font-size="7.36" fill="#1e1e1e" stroke="#1e1e1e" stroke-width="0.08">0%</text>
<text x="28.50" y="231.69" text-anchor="end" textLength="15.43" lengthAdjust="spacingAndGlyphs" font-size="7.36" fill="#1e1e1e" stroke="#1e1e1e" stroke-width="0.08">20%</text>
<text x="28.50" y="188.34" text-anchor="end" textLength="15.43" lengthAdjust="spacingAndGlyphs" font-size="7.36" fill="#1e1e1e" stroke="#1e1e1e" stroke-width="0.08">40%</text>
<text x="28.50" y="144.99" text-anchor="end" textLength="15.43" lengthAdjust="spacingAndGlyphs" font-size="7.36" fill="#1e1e1e" stroke="#1e1e1e" stroke-width="0.08">60%</text>
<text x="28.50" y="101.64" text-anchor="end" textLength="15.43" lengthAdjust="spacingAndGlyphs" font-size="7.36" fill="#1e1e1e" stroke="#1e1e1e" stroke-width="0.08">80%</text>
<text x="28.50" y="58.29" text-anchor="end" textLength="19.85" lengthAdjust="spacingAndGlyphs" font-size="7.36" fill="#1e1e1e" stroke="#1e1e1e" stroke-width="0.08">100%</text>
<text transform="translate(6.0,136.7) rotate(-90)" x="0" y="0" text-anchor="middle" textLength="98.12" lengthAdjust="spacingAndGlyphs" font-size="8.16" fill="#1e1e1e" stroke="#1e1e1e" stroke-width="0.18">Percentage of predictions</text>
<text x="64.00" y="306.84" text-anchor="middle" textLength="65.05" lengthAdjust="spacingAndGlyphs" font-size="7.36" fill="#1e1e1e" stroke="#1e1e1e" stroke-width="0.08">Conventional blind</text>
<text x="427.60" y="306.84" text-anchor="middle" textLength="51.96" lengthAdjust="spacingAndGlyphs" font-size="7.36" fill="#1e1e1e" stroke="#1e1e1e" stroke-width="0.08">DL-based blind</text>
<text x="403.10" y="21.14" text-anchor="middle" textLength="66.73" lengthAdjust="spacingAndGlyphs" font-size="7.36" fill="#1e1e1e" stroke="#1e1e1e" stroke-width="0.08">No post-processing</text>
<clipPath id="lc1"><rect x="354.50" y="26.45" width="13.9" height="5.2"/></clipPath>
<rect x="354.50" y="26.45" width="13.9" height="5.2" fill="#ffffff"/>
<path d="M353.50,6.00L369.40,21.90M353.50,8.50L369.40,24.40M353.50,11.00L369.40,26.90M353.50,13.50L369.40,29.40M353.50,16.00L369.40,31.90M353.50,18.50L369.40,34.40M353.50,21.00L369.40,36.90M353.50,23.50L369.40,39.40M353.50,26.00L369.40,41.90M353.50,28.50L369.40,44.40M353.50,31.00L369.40,46.90M353.50,33.50L369.40,49.40M353.50,36.00L369.40,51.90" stroke="#d2b48c" stroke-width="0.6" fill="none" clip-path="url(#lc1)"/>
<rect x="354.75" y="26.70" width="13.40" height="4.70" fill="none" stroke="#d2b48c" stroke-width="0.5"/>
<text x="374.20" y="31.59" text-anchor="start" textLength="43.79" lengthAdjust="spacingAndGlyphs" font-size="7.36" fill="#1e1e1e" stroke="#1e1e1e" stroke-width="0.08">cRMSD ≤ 1Å</text>
<clipPath id="lc2"><rect x="354.50" y="36.50" width="13.9" height="5.2"/></clipPath>
<rect x="354.50" y="36.50" width="13.9" height="5.2" fill="#ffffff"/>
<path d="M353.50,16.00L369.40,31.90M353.50,18.50L369.40,34.40M353.50,21.00L369.40,36.90M353.50,23.50L369.40,39.40M353.50,26.00L369.40,41.90M353.50,28.50L369.40,44.40M353.50,31.00L369.40,46.90M353.50,33.50L369.40,49.40M353.50,36.00L369.40,51.90M353.50,38.50L369.40,54.40M353.50,41.00L369.40,56.90M353.50,43.50L369.40,59.40M353.50,46.00L369.40,61.90" stroke="#fa8072" stroke-width="0.5" fill="none" clip-path="url(#lc2)"/>
<rect x="354.75" y="36.75" width="13.40" height="4.70" fill="none" stroke="#fa8072" stroke-width="0.5"/>
<text x="374.20" y="41.64" text-anchor="start" textLength="39.97" lengthAdjust="spacingAndGlyphs" font-size="7.36" fill="#1e1e1e" stroke="#1e1e1e" stroke-width="0.08">RMSD ≤ 2Å</text>
<rect x="354.50" y="46.80" width="13.9" height="5.2" fill="#fa8072"/>
<text x="374.20" y="51.94" text-anchor="start" textLength="78.53" lengthAdjust="spacingAndGlyphs" font-size="7.36" fill="#1e1e1e" stroke="#1e1e1e" stroke-width="0.08">RMSD ≤ 2Å &amp; PB-Valid</text>
<text x="558.80" y="21.14" text-anchor="middle" textLength="53.10" lengthAdjust="spacingAndGlyphs" font-size="7.36" fill="#1e1e1e" stroke="#1e1e1e" stroke-width="0.08">With relaxation</text>
<clipPath id="lc3"><rect x="510.10" y="26.45" width="13.9" height="5.2"/></clipPath>
<rect x="510.10" y="26.45" width="13.9" height="5.2" fill="#ffffff"/>
<path d="M509.10,6.60L525.00,22.50M509.10,9.10L525.00,25.00M509.10,11.60L525.00,27.50M509.10,14.10L525.00,30.00M509.10,16.60L525.00,32.50M509.10,19.10L525.00,35.00M509.10,21.60L525.00,37.50M509.10,24.10L525.00,40.00M509.10,26.60L525.00,42.50M509.10,29.10L525.00,45.00M509.10,31.60L525.00,47.50M509.10,34.10L525.00,50.00M509.10,36.60L525.00,52.50" stroke="#d2b48c" stroke-width="0.6" fill="none" clip-path="url(#lc3)"/>
<rect x="510.35" y="26.70" width="13.40" height="4.70" fill="none" stroke="#d2b48c" stroke-width="0.5"/>
<text x="529.80" y="31.59" text-anchor="start" textLength="43.79" lengthAdjust="spacingAndGlyphs" font-size="7.36" fill="#1e1e1e" stroke="#1e1e1e" stroke-width="0.08">cRMSD ≤ 1Å</text>
<clipPath id="lc4"><rect x="510.10" y="36.50" width="13.9" height="5.2"/></clipPath>
<rect x="510.10" y="36.50" width="13.9" height="5.2" fill="#ffffff"/>
<path d="M509.10,16.60L525.00,32.50M509.10,19.10L525.00,35.00M509.10,21.60L525.00,37.50M509.10,24.10L525.00,40.00M509.10,26.60L525.00,42.50M509.10,29.10L525.00,45.00M509.10,31.60L525.00,47.50M509.10,34.10L525.00,50.00M509.10,36.60L525.00,52.50M509.10,39.10L525.00,55.00M509.10,41.60L525.00,57.50M509.10,44.10L525.00,60.00M509.10,46.60L525.00,62.50" stroke="#bcbcdc" stroke-width="0.55" fill="none" clip-path="url(#lc4)"/>
<rect x="510.35" y="36.75" width="13.40" height="4.70" fill="none" stroke="#bcbcdc" stroke-width="0.5"/>
<text x="529.80" y="41.64" text-anchor="start" textLength="39.97" lengthAdjust="spacingAndGlyphs" font-size="7.36" fill="#1e1e1e" stroke="#1e1e1e" stroke-width="0.08">RMSD ≤ 2Å</text>
<rect x="510.10" y="46.80" width="13.9" height="5.2" fill="#bcbcdc"/>
<text x="529.80" y="51.94" text-anchor="start" textLength="78.53" lengthAdjust="spacingAndGlyphs" font-size="7.36" fill="#1e1e1e" stroke="#1e1e1e" stroke-width="0.08">RMSD ≤ 2Å &amp; PB-Valid</text>
<text x="709.10" y="21.34" text-anchor="middle" textLength="91.83" lengthAdjust="spacingAndGlyphs" font-size="7.36" fill="#1e1e1e" stroke="#1e1e1e" stroke-width="0.08">Protein-ligand interactions</text>
<text x="707.90" y="29.44" text-anchor="middle" textLength="71.35" lengthAdjust="spacingAndGlyphs" font-size="7.36" fill="#1e1e1e" stroke="#1e1e1e" stroke-width="0.08">(no post-processing)</text>
<clipPath id="lc5"><rect x="684.60" y="33.80" width="13.9" height="5.2"/></clipPath>
<rect x="684.60" y="33.80" width="13.9" height="5.2" fill="#f4d0ea"/>
<path d="M683.60,14.00L699.50,29.90M683.60,16.40L699.50,32.30M683.60,18.80L699.50,34.70M683.60,21.20L699.50,37.10M683.60,23.60L699.50,39.50M683.60,26.00L699.50,41.90M683.60,28.40L699.50,44.30M683.60,30.80L699.50,46.70M683.60,33.20L699.50,49.10M683.60,35.60L699.50,51.50M683.60,38.00L699.50,53.90M683.60,40.40L699.50,56.30M683.60,42.80L699.50,58.70" stroke="#7c5e78" stroke-width="0.85" fill="none" clip-path="url(#lc5)"/>
<text x="704.30" y="38.94" text-anchor="start" textLength="29.46" lengthAdjust="spacingAndGlyphs" font-size="7.36" fill="#1e1e1e" stroke="#1e1e1e" stroke-width="0.08">PLIF-WM</text>
</svg>
</body></html>
